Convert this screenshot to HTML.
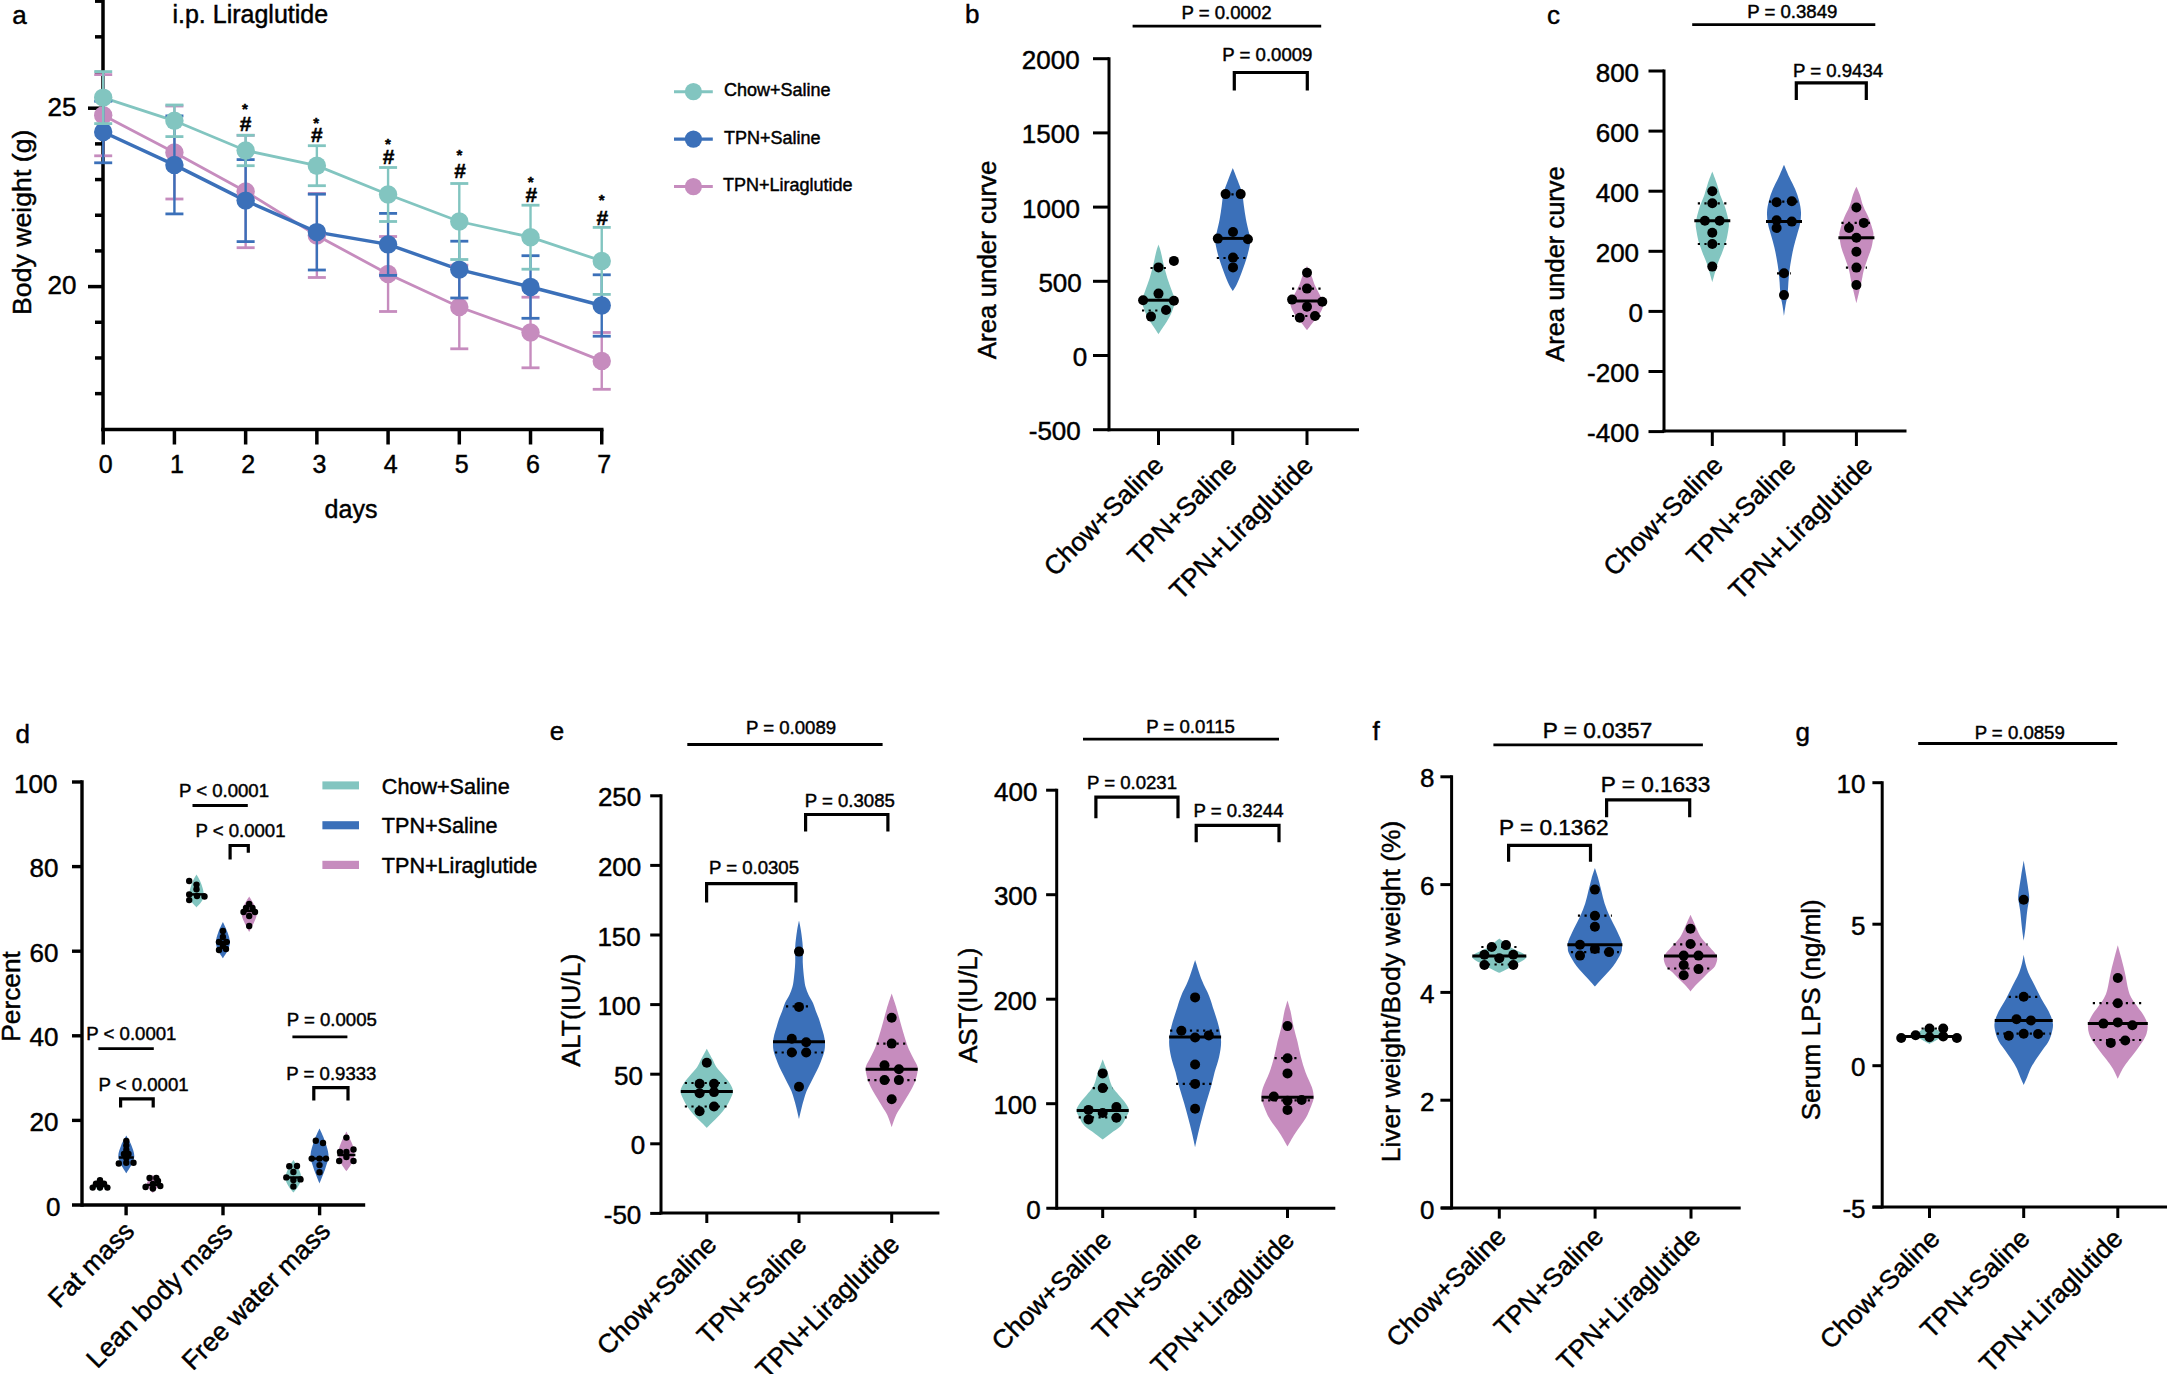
<!DOCTYPE html>
<html><head><meta charset="utf-8"><title>Figure</title>
<style>
html,body{margin:0;padding:0;background:#fff;}
body{width:2167px;height:1374px;overflow:hidden;}
svg{display:block;font-family:'Liberation Sans', Arial, Helvetica, sans-serif;}
text{stroke:#000;stroke-width:0.45px;paint-order:stroke;}
</style></head><body>
<svg width="2167" height="1374" viewBox="0 0 2167 1374">
<rect width="2167" height="1374" fill="#fff"/>
<line x1="103" y1="-2" x2="103" y2="431.2" stroke="#000" stroke-width="3.5" stroke-linecap="butt"/>
<line x1="101.3" y1="429.5" x2="603.5" y2="429.5" stroke="#000" stroke-width="3.5" stroke-linecap="butt"/>
<line x1="95" y1="393.64" x2="103" y2="393.64" stroke="#000" stroke-width="3.5" stroke-linecap="butt"/>
<line x1="95" y1="357.96" x2="103" y2="357.96" stroke="#000" stroke-width="3.5" stroke-linecap="butt"/>
<line x1="95" y1="322.28" x2="103" y2="322.28" stroke="#000" stroke-width="3.5" stroke-linecap="butt"/>
<line x1="88" y1="286.6" x2="103" y2="286.6" stroke="#000" stroke-width="3.5" stroke-linecap="butt"/>
<line x1="95" y1="250.92" x2="103" y2="250.92" stroke="#000" stroke-width="3.5" stroke-linecap="butt"/>
<line x1="95" y1="215.24" x2="103" y2="215.24" stroke="#000" stroke-width="3.5" stroke-linecap="butt"/>
<line x1="95" y1="179.56" x2="103" y2="179.56" stroke="#000" stroke-width="3.5" stroke-linecap="butt"/>
<line x1="95" y1="143.88" x2="103" y2="143.88" stroke="#000" stroke-width="3.5" stroke-linecap="butt"/>
<line x1="88" y1="108.2" x2="103" y2="108.2" stroke="#000" stroke-width="3.5" stroke-linecap="butt"/>
<line x1="95" y1="72.52" x2="103" y2="72.52" stroke="#000" stroke-width="3.5" stroke-linecap="butt"/>
<line x1="95" y1="36.84" x2="103" y2="36.84" stroke="#000" stroke-width="3.5" stroke-linecap="butt"/>
<line x1="95" y1="1.16" x2="103" y2="1.16" stroke="#000" stroke-width="3.5" stroke-linecap="butt"/>
<line x1="103.2" y1="429.5" x2="103.2" y2="444.5" stroke="#000" stroke-width="3.5" stroke-linecap="butt"/>
<text x="105.7" y="472.6" font-size="25" text-anchor="middle" fill="#000">0</text>
<line x1="174.42" y1="429.5" x2="174.42" y2="444.5" stroke="#000" stroke-width="3.5" stroke-linecap="butt"/>
<text x="176.92" y="472.6" font-size="25" text-anchor="middle" fill="#000">1</text>
<line x1="245.64" y1="429.5" x2="245.64" y2="444.5" stroke="#000" stroke-width="3.5" stroke-linecap="butt"/>
<text x="248.14" y="472.6" font-size="25" text-anchor="middle" fill="#000">2</text>
<line x1="316.86" y1="429.5" x2="316.86" y2="444.5" stroke="#000" stroke-width="3.5" stroke-linecap="butt"/>
<text x="319.36" y="472.6" font-size="25" text-anchor="middle" fill="#000">3</text>
<line x1="388.08" y1="429.5" x2="388.08" y2="444.5" stroke="#000" stroke-width="3.5" stroke-linecap="butt"/>
<text x="390.58" y="472.6" font-size="25" text-anchor="middle" fill="#000">4</text>
<line x1="459.3" y1="429.5" x2="459.3" y2="444.5" stroke="#000" stroke-width="3.5" stroke-linecap="butt"/>
<text x="461.8" y="472.6" font-size="25" text-anchor="middle" fill="#000">5</text>
<line x1="530.52" y1="429.5" x2="530.52" y2="444.5" stroke="#000" stroke-width="3.5" stroke-linecap="butt"/>
<text x="533.02" y="472.6" font-size="25" text-anchor="middle" fill="#000">6</text>
<line x1="601.74" y1="429.5" x2="601.74" y2="444.5" stroke="#000" stroke-width="3.5" stroke-linecap="butt"/>
<text x="604.24" y="472.6" font-size="25" text-anchor="middle" fill="#000">7</text>
<text x="76.5" y="116.2" font-size="26" text-anchor="end" fill="#000">25</text>
<text x="76.5" y="294" font-size="26" text-anchor="end" fill="#000">20</text>
<text x="31.3" y="222.3" font-size="26.7" text-anchor="middle" fill="#000" transform="rotate(-90 31.3 222.3)">Body weight (g)</text>
<text x="351" y="518" font-size="25" text-anchor="middle" fill="#000">days</text>
<text x="250.3" y="22.7" font-size="25" text-anchor="middle" fill="#000">i.p. Liraglutide</text>
<text x="19.5" y="24.3" font-size="26" text-anchor="middle" fill="#000">a</text>
<polyline points="103.2,115.2 174.42,152.5 245.64,191.5 316.86,235.5 388.08,274 459.3,307 530.52,332.5 601.74,360.9" fill="none" stroke="#C68CBE" stroke-width="2.8" stroke-linejoin="miter"/>
<polyline points="103.2,132 174.42,164.9 245.64,200.6 316.86,232.1 388.08,244.4 459.3,269.6 530.52,287 601.74,305.5" fill="none" stroke="#3B70B9" stroke-width="3.4" stroke-linejoin="miter"/>
<polyline points="103.2,97.6 174.42,120.8 245.64,150.5 316.86,165.7 388.08,194.5 459.3,221.5 530.52,237.2 601.74,260.9" fill="none" stroke="#82C5C0" stroke-width="2.8" stroke-linejoin="miter"/>
<line x1="103.2" y1="74.6" x2="103.2" y2="155.8" stroke="#C68CBE" stroke-width="2.4" stroke-linecap="butt"/>
<line x1="94.2" y1="74.6" x2="112.2" y2="74.6" stroke="#C68CBE" stroke-width="2.8" stroke-linecap="butt"/>
<line x1="94.2" y1="155.8" x2="112.2" y2="155.8" stroke="#C68CBE" stroke-width="2.8" stroke-linecap="butt"/>
<line x1="174.42" y1="106" x2="174.42" y2="199" stroke="#C68CBE" stroke-width="2.4" stroke-linecap="butt"/>
<line x1="165.42" y1="106" x2="183.42" y2="106" stroke="#C68CBE" stroke-width="2.8" stroke-linecap="butt"/>
<line x1="165.42" y1="199" x2="183.42" y2="199" stroke="#C68CBE" stroke-width="2.8" stroke-linecap="butt"/>
<line x1="245.64" y1="135.3" x2="245.64" y2="247.7" stroke="#C68CBE" stroke-width="2.4" stroke-linecap="butt"/>
<line x1="236.64" y1="135.3" x2="254.64" y2="135.3" stroke="#C68CBE" stroke-width="2.8" stroke-linecap="butt"/>
<line x1="236.64" y1="247.7" x2="254.64" y2="247.7" stroke="#C68CBE" stroke-width="2.8" stroke-linecap="butt"/>
<line x1="316.86" y1="193.5" x2="316.86" y2="277.5" stroke="#C68CBE" stroke-width="2.4" stroke-linecap="butt"/>
<line x1="307.86" y1="193.5" x2="325.86" y2="193.5" stroke="#C68CBE" stroke-width="2.8" stroke-linecap="butt"/>
<line x1="307.86" y1="277.5" x2="325.86" y2="277.5" stroke="#C68CBE" stroke-width="2.8" stroke-linecap="butt"/>
<line x1="388.08" y1="236.5" x2="388.08" y2="311.5" stroke="#C68CBE" stroke-width="2.4" stroke-linecap="butt"/>
<line x1="379.08" y1="236.5" x2="397.08" y2="236.5" stroke="#C68CBE" stroke-width="2.8" stroke-linecap="butt"/>
<line x1="379.08" y1="311.5" x2="397.08" y2="311.5" stroke="#C68CBE" stroke-width="2.8" stroke-linecap="butt"/>
<line x1="459.3" y1="265.2" x2="459.3" y2="348.8" stroke="#C68CBE" stroke-width="2.4" stroke-linecap="butt"/>
<line x1="450.3" y1="265.2" x2="468.3" y2="265.2" stroke="#C68CBE" stroke-width="2.8" stroke-linecap="butt"/>
<line x1="450.3" y1="348.8" x2="468.3" y2="348.8" stroke="#C68CBE" stroke-width="2.8" stroke-linecap="butt"/>
<line x1="530.52" y1="297.2" x2="530.52" y2="367.8" stroke="#C68CBE" stroke-width="2.4" stroke-linecap="butt"/>
<line x1="521.52" y1="297.2" x2="539.52" y2="297.2" stroke="#C68CBE" stroke-width="2.8" stroke-linecap="butt"/>
<line x1="521.52" y1="367.8" x2="539.52" y2="367.8" stroke="#C68CBE" stroke-width="2.8" stroke-linecap="butt"/>
<line x1="601.74" y1="332.5" x2="601.74" y2="389.3" stroke="#C68CBE" stroke-width="2.4" stroke-linecap="butt"/>
<line x1="592.74" y1="332.5" x2="610.74" y2="332.5" stroke="#C68CBE" stroke-width="2.8" stroke-linecap="butt"/>
<line x1="592.74" y1="389.3" x2="610.74" y2="389.3" stroke="#C68CBE" stroke-width="2.8" stroke-linecap="butt"/>
<circle cx="103.2" cy="115.2" r="9.2" fill="#C68CBE"/>
<circle cx="174.42" cy="152.5" r="9.2" fill="#C68CBE"/>
<circle cx="245.64" cy="191.5" r="9.2" fill="#C68CBE"/>
<circle cx="316.86" cy="235.5" r="9.2" fill="#C68CBE"/>
<circle cx="388.08" cy="274" r="9.2" fill="#C68CBE"/>
<circle cx="459.3" cy="307" r="9.2" fill="#C68CBE"/>
<circle cx="530.52" cy="332.5" r="9.2" fill="#C68CBE"/>
<circle cx="601.74" cy="360.9" r="9.2" fill="#C68CBE"/>
<line x1="103.2" y1="101.2" x2="103.2" y2="162.8" stroke="#3B70B9" stroke-width="2.4" stroke-linecap="butt"/>
<line x1="94.2" y1="101.2" x2="112.2" y2="101.2" stroke="#3B70B9" stroke-width="2.8" stroke-linecap="butt"/>
<line x1="94.2" y1="162.8" x2="112.2" y2="162.8" stroke="#3B70B9" stroke-width="2.8" stroke-linecap="butt"/>
<line x1="174.42" y1="115.9" x2="174.42" y2="213.9" stroke="#3B70B9" stroke-width="2.4" stroke-linecap="butt"/>
<line x1="165.42" y1="115.9" x2="183.42" y2="115.9" stroke="#3B70B9" stroke-width="2.8" stroke-linecap="butt"/>
<line x1="165.42" y1="213.9" x2="183.42" y2="213.9" stroke="#3B70B9" stroke-width="2.8" stroke-linecap="butt"/>
<line x1="245.64" y1="159.6" x2="245.64" y2="241.6" stroke="#3B70B9" stroke-width="2.4" stroke-linecap="butt"/>
<line x1="236.64" y1="159.6" x2="254.64" y2="159.6" stroke="#3B70B9" stroke-width="2.8" stroke-linecap="butt"/>
<line x1="236.64" y1="241.6" x2="254.64" y2="241.6" stroke="#3B70B9" stroke-width="2.8" stroke-linecap="butt"/>
<line x1="316.86" y1="194.2" x2="316.86" y2="270" stroke="#3B70B9" stroke-width="2.4" stroke-linecap="butt"/>
<line x1="307.86" y1="194.2" x2="325.86" y2="194.2" stroke="#3B70B9" stroke-width="2.8" stroke-linecap="butt"/>
<line x1="307.86" y1="270" x2="325.86" y2="270" stroke="#3B70B9" stroke-width="2.8" stroke-linecap="butt"/>
<line x1="388.08" y1="213.4" x2="388.08" y2="275.4" stroke="#3B70B9" stroke-width="2.4" stroke-linecap="butt"/>
<line x1="379.08" y1="213.4" x2="397.08" y2="213.4" stroke="#3B70B9" stroke-width="2.8" stroke-linecap="butt"/>
<line x1="379.08" y1="275.4" x2="397.08" y2="275.4" stroke="#3B70B9" stroke-width="2.8" stroke-linecap="butt"/>
<line x1="459.3" y1="241.2" x2="459.3" y2="298" stroke="#3B70B9" stroke-width="2.4" stroke-linecap="butt"/>
<line x1="450.3" y1="241.2" x2="468.3" y2="241.2" stroke="#3B70B9" stroke-width="2.8" stroke-linecap="butt"/>
<line x1="450.3" y1="298" x2="468.3" y2="298" stroke="#3B70B9" stroke-width="2.8" stroke-linecap="butt"/>
<line x1="530.52" y1="255.7" x2="530.52" y2="318.3" stroke="#3B70B9" stroke-width="2.4" stroke-linecap="butt"/>
<line x1="521.52" y1="255.7" x2="539.52" y2="255.7" stroke="#3B70B9" stroke-width="2.8" stroke-linecap="butt"/>
<line x1="521.52" y1="318.3" x2="539.52" y2="318.3" stroke="#3B70B9" stroke-width="2.8" stroke-linecap="butt"/>
<line x1="601.74" y1="274.8" x2="601.74" y2="336.2" stroke="#3B70B9" stroke-width="2.4" stroke-linecap="butt"/>
<line x1="592.74" y1="274.8" x2="610.74" y2="274.8" stroke="#3B70B9" stroke-width="2.8" stroke-linecap="butt"/>
<line x1="592.74" y1="336.2" x2="610.74" y2="336.2" stroke="#3B70B9" stroke-width="2.8" stroke-linecap="butt"/>
<circle cx="103.2" cy="132" r="9.2" fill="#3B70B9"/>
<circle cx="174.42" cy="164.9" r="9.2" fill="#3B70B9"/>
<circle cx="245.64" cy="200.6" r="9.2" fill="#3B70B9"/>
<circle cx="316.86" cy="232.1" r="9.2" fill="#3B70B9"/>
<circle cx="388.08" cy="244.4" r="9.2" fill="#3B70B9"/>
<circle cx="459.3" cy="269.6" r="9.2" fill="#3B70B9"/>
<circle cx="530.52" cy="287" r="9.2" fill="#3B70B9"/>
<circle cx="601.74" cy="305.5" r="9.2" fill="#3B70B9"/>
<line x1="103.2" y1="71.6" x2="103.2" y2="123.6" stroke="#82C5C0" stroke-width="2.4" stroke-linecap="butt"/>
<line x1="94.2" y1="71.6" x2="112.2" y2="71.6" stroke="#82C5C0" stroke-width="2.8" stroke-linecap="butt"/>
<line x1="94.2" y1="123.6" x2="112.2" y2="123.6" stroke="#82C5C0" stroke-width="2.8" stroke-linecap="butt"/>
<line x1="174.42" y1="105" x2="174.42" y2="136.6" stroke="#82C5C0" stroke-width="2.4" stroke-linecap="butt"/>
<line x1="165.42" y1="105" x2="183.42" y2="105" stroke="#82C5C0" stroke-width="2.8" stroke-linecap="butt"/>
<line x1="165.42" y1="136.6" x2="183.42" y2="136.6" stroke="#82C5C0" stroke-width="2.8" stroke-linecap="butt"/>
<line x1="245.64" y1="135.3" x2="245.64" y2="165.7" stroke="#82C5C0" stroke-width="2.4" stroke-linecap="butt"/>
<line x1="236.64" y1="135.3" x2="254.64" y2="135.3" stroke="#82C5C0" stroke-width="2.8" stroke-linecap="butt"/>
<line x1="236.64" y1="165.7" x2="254.64" y2="165.7" stroke="#82C5C0" stroke-width="2.8" stroke-linecap="butt"/>
<line x1="316.86" y1="145.7" x2="316.86" y2="185.7" stroke="#82C5C0" stroke-width="2.4" stroke-linecap="butt"/>
<line x1="307.86" y1="145.7" x2="325.86" y2="145.7" stroke="#82C5C0" stroke-width="2.8" stroke-linecap="butt"/>
<line x1="307.86" y1="185.7" x2="325.86" y2="185.7" stroke="#82C5C0" stroke-width="2.8" stroke-linecap="butt"/>
<line x1="388.08" y1="167.5" x2="388.08" y2="221.5" stroke="#82C5C0" stroke-width="2.4" stroke-linecap="butt"/>
<line x1="379.08" y1="167.5" x2="397.08" y2="167.5" stroke="#82C5C0" stroke-width="2.8" stroke-linecap="butt"/>
<line x1="379.08" y1="221.5" x2="397.08" y2="221.5" stroke="#82C5C0" stroke-width="2.8" stroke-linecap="butt"/>
<line x1="459.3" y1="183.5" x2="459.3" y2="259.5" stroke="#82C5C0" stroke-width="2.4" stroke-linecap="butt"/>
<line x1="450.3" y1="183.5" x2="468.3" y2="183.5" stroke="#82C5C0" stroke-width="2.8" stroke-linecap="butt"/>
<line x1="450.3" y1="259.5" x2="468.3" y2="259.5" stroke="#82C5C0" stroke-width="2.8" stroke-linecap="butt"/>
<line x1="530.52" y1="205.2" x2="530.52" y2="269.2" stroke="#82C5C0" stroke-width="2.4" stroke-linecap="butt"/>
<line x1="521.52" y1="205.2" x2="539.52" y2="205.2" stroke="#82C5C0" stroke-width="2.8" stroke-linecap="butt"/>
<line x1="521.52" y1="269.2" x2="539.52" y2="269.2" stroke="#82C5C0" stroke-width="2.8" stroke-linecap="butt"/>
<line x1="601.74" y1="227.4" x2="601.74" y2="294.4" stroke="#82C5C0" stroke-width="2.4" stroke-linecap="butt"/>
<line x1="592.74" y1="227.4" x2="610.74" y2="227.4" stroke="#82C5C0" stroke-width="2.8" stroke-linecap="butt"/>
<line x1="592.74" y1="294.4" x2="610.74" y2="294.4" stroke="#82C5C0" stroke-width="2.8" stroke-linecap="butt"/>
<circle cx="103.2" cy="97.6" r="9.2" fill="#82C5C0"/>
<circle cx="174.42" cy="120.8" r="9.2" fill="#82C5C0"/>
<circle cx="245.64" cy="150.5" r="9.2" fill="#82C5C0"/>
<circle cx="316.86" cy="165.7" r="9.2" fill="#82C5C0"/>
<circle cx="388.08" cy="194.5" r="9.2" fill="#82C5C0"/>
<circle cx="459.3" cy="221.5" r="9.2" fill="#82C5C0"/>
<circle cx="530.52" cy="237.2" r="9.2" fill="#82C5C0"/>
<circle cx="601.74" cy="260.9" r="9.2" fill="#82C5C0"/>
<text x="244.8" y="114.2" font-size="15" text-anchor="middle" fill="#000" font-weight="bold">*</text>
<text x="245.5" y="131.3" font-size="21" text-anchor="middle" fill="#000" font-weight="bold">#</text>
<text x="316.1" y="127.5" font-size="15" text-anchor="middle" fill="#000" font-weight="bold">*</text>
<text x="316.8" y="141.8" font-size="21" text-anchor="middle" fill="#000" font-weight="bold">#</text>
<text x="387.8" y="149" font-size="15" text-anchor="middle" fill="#000" font-weight="bold">*</text>
<text x="388.5" y="163.5" font-size="21" text-anchor="middle" fill="#000" font-weight="bold">#</text>
<text x="459.5" y="160.4" font-size="15" text-anchor="middle" fill="#000" font-weight="bold">*</text>
<text x="460.2" y="178.2" font-size="21" text-anchor="middle" fill="#000" font-weight="bold">#</text>
<text x="530.6" y="186.6" font-size="15" text-anchor="middle" fill="#000" font-weight="bold">*</text>
<text x="531.3" y="202.3" font-size="21" text-anchor="middle" fill="#000" font-weight="bold">#</text>
<text x="601.7" y="205" font-size="15" text-anchor="middle" fill="#000" font-weight="bold">*</text>
<text x="602.4" y="224.5" font-size="21" text-anchor="middle" fill="#000" font-weight="bold">#</text>
<line x1="674" y1="91.7" x2="712.8" y2="91.7" stroke="#82C5C0" stroke-width="3" stroke-linecap="butt"/>
<circle cx="693.4" cy="91.7" r="8.6" fill="#82C5C0"/>
<line x1="674" y1="139.1" x2="712.8" y2="139.1" stroke="#3B70B9" stroke-width="3.4" stroke-linecap="butt"/>
<circle cx="693.4" cy="139.1" r="8.6" fill="#3B70B9"/>
<line x1="674" y1="186.6" x2="712.8" y2="186.6" stroke="#C68CBE" stroke-width="3" stroke-linecap="butt"/>
<circle cx="693.4" cy="186.6" r="8.6" fill="#C68CBE"/>
<text x="724" y="95.5" font-size="18" text-anchor="start" fill="#000">Chow+Saline</text>
<text x="724" y="143.5" font-size="18" text-anchor="start" fill="#000">TPN+Saline</text>
<text x="723" y="190.5" font-size="18" text-anchor="start" fill="#000">TPN+Liraglutide</text>
<line x1="1109" y1="57.2" x2="1109" y2="431.3" stroke="#000" stroke-width="3" stroke-linecap="butt"/>
<line x1="1107.5" y1="429.8" x2="1359" y2="429.8" stroke="#000" stroke-width="3" stroke-linecap="butt"/>
<line x1="1093" y1="58.7" x2="1109" y2="58.7" stroke="#000" stroke-width="3" stroke-linecap="butt"/>
<text x="1079.6" y="69.2" font-size="26" text-anchor="end" fill="#000">2000</text>
<line x1="1093" y1="132.9" x2="1109" y2="132.9" stroke="#000" stroke-width="3" stroke-linecap="butt"/>
<text x="1079.6" y="143.4" font-size="26" text-anchor="end" fill="#000">1500</text>
<line x1="1093" y1="207.1" x2="1109" y2="207.1" stroke="#000" stroke-width="3" stroke-linecap="butt"/>
<text x="1079.9" y="217.6" font-size="26" text-anchor="end" fill="#000">1000</text>
<line x1="1093" y1="281.3" x2="1109" y2="281.3" stroke="#000" stroke-width="3" stroke-linecap="butt"/>
<text x="1081.8" y="291.8" font-size="26" text-anchor="end" fill="#000">500</text>
<line x1="1093" y1="355.5" x2="1109" y2="355.5" stroke="#000" stroke-width="3" stroke-linecap="butt"/>
<text x="1087.2" y="366" font-size="26" text-anchor="end" fill="#000">0</text>
<line x1="1093" y1="429.7" x2="1109" y2="429.7" stroke="#000" stroke-width="3" stroke-linecap="butt"/>
<text x="1080.8" y="440.2" font-size="26" text-anchor="end" fill="#000">-500</text>
<line x1="1158.5" y1="429.8" x2="1158.5" y2="445" stroke="#000" stroke-width="3" stroke-linecap="butt"/>
<line x1="1232.8" y1="429.8" x2="1232.8" y2="445" stroke="#000" stroke-width="3" stroke-linecap="butt"/>
<line x1="1307" y1="429.8" x2="1307" y2="445" stroke="#000" stroke-width="3" stroke-linecap="butt"/>
<text x="996.5" y="259.9" font-size="25.9" text-anchor="middle" fill="#000" transform="rotate(-90 996.5 259.9)">Area under curve</text>
<text x="972.2" y="22.7" font-size="26" text-anchor="middle" fill="#000">b</text>
<text x="1226.5" y="18.9" font-size="18.6" text-anchor="middle" fill="#000">P = 0.0002</text>
<line x1="1132.6" y1="26.1" x2="1321.2" y2="26.1" stroke="#000" stroke-width="2.8" stroke-linecap="butt"/>
<text x="1267.4" y="60.9" font-size="18.6" text-anchor="middle" fill="#000">P = 0.0009</text>
<polyline points="1234.3,90.4 1234.3,72.5 1307.3,72.5 1307.3,90.4" fill="none" stroke="#000" stroke-width="3.2" stroke-linejoin="miter"/>
<path d="M1158.5,244.5 C1158.88,245.7 1159.93,248.32 1160.8,251.7 C1161.67,255.08 1162.62,260.43 1163.7,264.8 C1164.78,269.17 1165.93,273.53 1167.3,277.9 C1168.67,282.27 1170.62,287.18 1171.9,291 C1173.18,294.82 1174.93,297.52 1175,300.8 C1175.07,304.08 1173.25,307.97 1172.3,310.7 C1171.35,313.43 1170.45,315.02 1169.3,317.2 C1168.15,319.38 1167.2,320.97 1165.4,323.8 C1163.6,326.63 1159.65,332.47 1158.5,334.2 C1157.35,332.47 1153.4,326.63 1151.6,323.8 C1149.8,320.97 1148.85,319.38 1147.7,317.2 C1146.55,315.02 1145.65,313.43 1144.7,310.7 C1143.75,307.97 1141.93,304.08 1142,300.8 C1142.07,297.52 1143.82,294.82 1145.1,291 C1146.38,287.18 1148.33,282.27 1149.7,277.9 C1151.07,273.53 1152.22,269.17 1153.3,264.8 C1154.38,260.43 1155.33,255.08 1156.2,251.7 C1157.07,248.32 1158.12,245.7 1158.5,244.5 Z" fill="#82C5C0"/>
<line x1="1142" y1="310.5" x2="1175" y2="310.5" stroke="#000" stroke-width="2.2" stroke-linecap="butt" stroke-dasharray="2.2,4.4"/>
<line x1="1150.5" y1="268" x2="1166.5" y2="268" stroke="#000" stroke-width="2.2" stroke-linecap="butt" stroke-dasharray="2.2,4.4"/>
<line x1="1143" y1="300.2" x2="1174" y2="300.2" stroke="#000" stroke-width="3" stroke-linecap="butt"/>
<circle cx="1158.5" cy="267.4" r="5" fill="#000"/>
<circle cx="1173.9" cy="260.9" r="5" fill="#000"/>
<circle cx="1158.5" cy="293.6" r="5" fill="#000"/>
<circle cx="1143.1" cy="300.2" r="5" fill="#000"/>
<circle cx="1173.9" cy="300.8" r="5" fill="#000"/>
<circle cx="1166" cy="310" r="5" fill="#000"/>
<circle cx="1151" cy="316.6" r="5" fill="#000"/>
<path d="M1232.8,167.9 C1233.57,169.87 1235.87,175.55 1237.4,179.7 C1238.93,183.85 1240.92,188.43 1242,192.8 C1243.08,197.17 1243.25,201.53 1243.9,205.9 C1244.55,210.27 1245.08,214.63 1245.9,219 C1246.72,223.37 1248.07,228.83 1248.8,232.1 C1249.53,235.37 1250.13,236.42 1250.3,238.6 C1250.47,240.78 1250.42,241.92 1249.8,245.2 C1249.18,248.48 1247.9,253.93 1246.6,258.3 C1245.3,262.67 1243.65,267.03 1242,271.4 C1240.35,275.77 1238.23,281.23 1236.7,284.5 C1235.17,287.77 1233.45,289.92 1232.8,291 C1232.15,289.92 1230.43,287.77 1228.9,284.5 C1227.37,281.23 1225.25,275.77 1223.6,271.4 C1221.95,267.03 1220.3,262.67 1219,258.3 C1217.7,253.93 1216.42,248.48 1215.8,245.2 C1215.18,241.92 1215.13,240.78 1215.3,238.6 C1215.47,236.42 1216.07,235.37 1216.8,232.1 C1217.53,228.83 1218.88,223.37 1219.7,219 C1220.52,214.63 1221.05,210.27 1221.7,205.9 C1222.35,201.53 1222.52,197.17 1223.6,192.8 C1224.68,188.43 1226.67,183.85 1228.2,179.7 C1229.73,175.55 1232.03,169.87 1232.8,167.9 Z" fill="#3B70B9"/>
<line x1="1216.8" y1="258" x2="1248.8" y2="258" stroke="#000" stroke-width="2.2" stroke-linecap="butt" stroke-dasharray="2.2,4.4"/>
<line x1="1224.8" y1="194.3" x2="1240.8" y2="194.3" stroke="#000" stroke-width="2.2" stroke-linecap="butt" stroke-dasharray="2.2,4.4"/>
<line x1="1217.3" y1="238.4" x2="1248.3" y2="238.4" stroke="#000" stroke-width="3" stroke-linecap="butt"/>
<circle cx="1225.6" cy="194.1" r="5" fill="#000"/>
<circle cx="1240.7" cy="194.1" r="5" fill="#000"/>
<circle cx="1233" cy="232" r="5" fill="#000"/>
<circle cx="1217.8" cy="238.6" r="5" fill="#000"/>
<circle cx="1247.9" cy="239.3" r="5" fill="#000"/>
<circle cx="1233" cy="257.6" r="5" fill="#000"/>
<circle cx="1233" cy="267.4" r="5" fill="#000"/>
<path d="M1307,266.1 C1307.47,266.98 1308.92,269.43 1309.8,271.4 C1310.68,273.37 1311.52,275.72 1312.3,277.9 C1313.08,280.08 1313.58,282.32 1314.5,284.5 C1315.42,286.68 1316.7,288.82 1317.8,291 C1318.9,293.18 1320.15,295.42 1321.1,297.6 C1322.05,299.78 1323.45,301.92 1323.5,304.1 C1323.55,306.28 1322.45,308.52 1321.4,310.7 C1320.35,312.88 1318.78,315.02 1317.2,317.2 C1315.62,319.38 1313.6,321.62 1311.9,323.8 C1310.2,325.98 1307.82,329.22 1307,330.3 C1306.18,329.22 1303.8,325.98 1302.1,323.8 C1300.4,321.62 1298.38,319.38 1296.8,317.2 C1295.22,315.02 1293.65,312.88 1292.6,310.7 C1291.55,308.52 1290.45,306.28 1290.5,304.1 C1290.55,301.92 1291.95,299.78 1292.9,297.6 C1293.85,295.42 1295.1,293.18 1296.2,291 C1297.3,288.82 1298.58,286.68 1299.5,284.5 C1300.42,282.32 1300.92,280.08 1301.7,277.9 C1302.48,275.72 1303.32,273.37 1304.2,271.4 C1305.08,269.43 1306.53,266.98 1307,266.1 Z" fill="#C68CBE"/>
<line x1="1292" y1="316" x2="1322" y2="316" stroke="#000" stroke-width="2.2" stroke-linecap="butt" stroke-dasharray="2.2,4.4"/>
<line x1="1292" y1="288.6" x2="1322" y2="288.6" stroke="#000" stroke-width="2.2" stroke-linecap="butt" stroke-dasharray="2.2,4.4"/>
<line x1="1291.5" y1="301" x2="1322.5" y2="301" stroke="#000" stroke-width="3" stroke-linecap="butt"/>
<circle cx="1307" cy="272.7" r="5" fill="#000"/>
<circle cx="1307" cy="288.6" r="5" fill="#000"/>
<circle cx="1292.1" cy="299.6" r="5" fill="#000"/>
<circle cx="1322.3" cy="301.7" r="5" fill="#000"/>
<circle cx="1307" cy="306.8" r="5" fill="#000"/>
<circle cx="1299.8" cy="317.7" r="5" fill="#000"/>
<circle cx="1315" cy="316" r="5" fill="#000"/>
<text x="1165.3" y="467" font-size="26.4" text-anchor="end" fill="#000" transform="rotate(-45 1165.3 467)">Chow+Saline</text>
<text x="1238.5" y="467" font-size="26.4" text-anchor="end" fill="#000" transform="rotate(-45 1238.5 467)">TPN+Saline</text>
<text x="1314.8" y="467" font-size="26.4" text-anchor="end" fill="#000" transform="rotate(-45 1314.8 467)">TPN+Liraglutide</text>
<line x1="1664" y1="69.5" x2="1664" y2="432.5" stroke="#000" stroke-width="3" stroke-linecap="butt"/>
<line x1="1662.5" y1="431" x2="1906.5" y2="431" stroke="#000" stroke-width="3" stroke-linecap="butt"/>
<line x1="1648.5" y1="71" x2="1664" y2="71" stroke="#000" stroke-width="3" stroke-linecap="butt"/>
<text x="1639.1" y="81.5" font-size="26" text-anchor="end" fill="#000">800</text>
<line x1="1648.5" y1="131.1" x2="1664" y2="131.1" stroke="#000" stroke-width="3" stroke-linecap="butt"/>
<text x="1639.1" y="141.6" font-size="26" text-anchor="end" fill="#000">600</text>
<line x1="1648.5" y1="191.2" x2="1664" y2="191.2" stroke="#000" stroke-width="3" stroke-linecap="butt"/>
<text x="1639.1" y="201.7" font-size="26" text-anchor="end" fill="#000">400</text>
<line x1="1648.5" y1="251.3" x2="1664" y2="251.3" stroke="#000" stroke-width="3" stroke-linecap="butt"/>
<text x="1639.1" y="261.8" font-size="26" text-anchor="end" fill="#000">200</text>
<line x1="1648.5" y1="311.4" x2="1664" y2="311.4" stroke="#000" stroke-width="3" stroke-linecap="butt"/>
<text x="1643" y="321.9" font-size="26" text-anchor="end" fill="#000">0</text>
<line x1="1648.5" y1="371.5" x2="1664" y2="371.5" stroke="#000" stroke-width="3" stroke-linecap="butt"/>
<text x="1639.1" y="382" font-size="26" text-anchor="end" fill="#000">-200</text>
<line x1="1648.5" y1="431.6" x2="1664" y2="431.6" stroke="#000" stroke-width="3" stroke-linecap="butt"/>
<text x="1639.1" y="442.1" font-size="26" text-anchor="end" fill="#000">-400</text>
<line x1="1712.3" y1="431" x2="1712.3" y2="446" stroke="#000" stroke-width="3" stroke-linecap="butt"/>
<line x1="1784" y1="431" x2="1784" y2="446" stroke="#000" stroke-width="3" stroke-linecap="butt"/>
<line x1="1856.4" y1="431" x2="1856.4" y2="446" stroke="#000" stroke-width="3" stroke-linecap="butt"/>
<text x="1563.8" y="264" font-size="25.5" text-anchor="middle" fill="#000" transform="rotate(-90 1563.8 264)">Area under curve</text>
<text x="1553.5" y="23.7" font-size="26" text-anchor="middle" fill="#000">c</text>
<text x="1792.3" y="18" font-size="18.6" text-anchor="middle" fill="#000">P = 0.3849</text>
<line x1="1692.2" y1="24.6" x2="1875.3" y2="24.6" stroke="#000" stroke-width="2.8" stroke-linecap="butt"/>
<text x="1838.1" y="76.6" font-size="18.6" text-anchor="middle" fill="#000">P = 0.9434</text>
<polyline points="1796.3,99.9 1796.3,82.9 1866.3,82.9 1866.3,99.9" fill="none" stroke="#000" stroke-width="3.2" stroke-linejoin="miter"/>
<path d="M1712.3,171.6 C1713.03,173.55 1715.38,179.42 1716.7,183.3 C1718.02,187.18 1718.85,191.02 1720.2,194.9 C1721.55,198.78 1723.5,202.72 1724.8,206.6 C1726.1,210.48 1727.32,215.28 1728,218.2 C1728.68,221.12 1728.85,222.15 1728.9,224.1 C1728.95,226.05 1728.78,227 1728.3,229.9 C1727.82,232.8 1727.07,237.62 1726,241.5 C1724.93,245.38 1723.35,249.32 1721.9,253.2 C1720.45,257.08 1718.9,259.95 1717.3,264.8 C1715.7,269.65 1713.13,279.38 1712.3,282.3 C1711.47,279.38 1708.9,269.65 1707.3,264.8 C1705.7,259.95 1704.15,257.08 1702.7,253.2 C1701.25,249.32 1699.67,245.38 1698.6,241.5 C1697.53,237.62 1696.78,232.8 1696.3,229.9 C1695.82,227 1695.65,226.05 1695.7,224.1 C1695.75,222.15 1695.92,221.12 1696.6,218.2 C1697.28,215.28 1698.5,210.48 1699.8,206.6 C1701.1,202.72 1703.05,198.78 1704.4,194.9 C1705.75,191.02 1706.58,187.18 1707.9,183.3 C1709.22,179.42 1711.57,173.55 1712.3,171.6 Z" fill="#82C5C0"/>
<line x1="1697.8" y1="244" x2="1726.8" y2="244" stroke="#000" stroke-width="2.2" stroke-linecap="butt" stroke-dasharray="2.2,4.4"/>
<line x1="1697.8" y1="203.3" x2="1726.8" y2="203.3" stroke="#000" stroke-width="2.2" stroke-linecap="butt" stroke-dasharray="2.2,4.4"/>
<line x1="1694.3" y1="220.8" x2="1730.3" y2="220.8" stroke="#000" stroke-width="3" stroke-linecap="butt"/>
<circle cx="1712.3" cy="191.2" r="5" fill="#000"/>
<circle cx="1712.3" cy="203.3" r="5" fill="#000"/>
<circle cx="1704.9" cy="220.8" r="5" fill="#000"/>
<circle cx="1719.6" cy="220.8" r="5" fill="#000"/>
<circle cx="1712.3" cy="232.8" r="5" fill="#000"/>
<circle cx="1712.3" cy="244" r="5" fill="#000"/>
<circle cx="1712.3" cy="266.6" r="5" fill="#000"/>
<path d="M1784,164.7 C1784.92,166.83 1787.65,173.43 1789.5,177.5 C1791.35,181.57 1793.5,185.22 1795.1,189.1 C1796.7,192.98 1798.12,196.92 1799.1,200.8 C1800.08,204.68 1800.85,208.52 1801,212.4 C1801.15,216.28 1800.7,220.22 1800,224.1 C1799.3,227.98 1797.87,231.82 1796.8,235.7 C1795.73,239.58 1794.52,243.52 1793.6,247.4 C1792.68,251.28 1791.98,255.13 1791.3,259 C1790.62,262.87 1789.98,266.72 1789.5,270.6 C1789.02,274.48 1788.72,278.42 1788.4,282.3 C1788.08,286.18 1788.08,290.02 1787.6,293.9 C1787.12,297.78 1786.1,301.9 1785.5,305.6 C1784.9,309.3 1784.25,314.35 1784,316.1 C1783.75,314.35 1783.1,309.3 1782.5,305.6 C1781.9,301.9 1780.88,297.78 1780.4,293.9 C1779.92,290.02 1779.92,286.18 1779.6,282.3 C1779.28,278.42 1778.98,274.48 1778.5,270.6 C1778.02,266.72 1777.38,262.87 1776.7,259 C1776.02,255.13 1775.32,251.28 1774.4,247.4 C1773.48,243.52 1772.27,239.58 1771.2,235.7 C1770.13,231.82 1768.7,227.98 1768,224.1 C1767.3,220.22 1766.85,216.28 1767,212.4 C1767.15,208.52 1767.92,204.68 1768.9,200.8 C1769.88,196.92 1771.3,192.98 1772.9,189.1 C1774.5,185.22 1776.65,181.57 1778.5,177.5 C1780.35,173.43 1783.08,166.83 1784,164.7 Z" fill="#3B70B9"/>
<line x1="1777" y1="273.3" x2="1791" y2="273.3" stroke="#000" stroke-width="2.2" stroke-linecap="butt" stroke-dasharray="2.2,4.4"/>
<line x1="1769" y1="201.7" x2="1799" y2="201.7" stroke="#000" stroke-width="2.2" stroke-linecap="butt" stroke-dasharray="2.2,4.4"/>
<line x1="1766" y1="221.6" x2="1802" y2="221.6" stroke="#000" stroke-width="3" stroke-linecap="butt"/>
<circle cx="1776.6" cy="202.2" r="5" fill="#000"/>
<circle cx="1791.8" cy="201.2" r="5" fill="#000"/>
<circle cx="1776.6" cy="220.2" r="5" fill="#000"/>
<circle cx="1791.8" cy="221.6" r="5" fill="#000"/>
<circle cx="1776.6" cy="228" r="5" fill="#000"/>
<circle cx="1784" cy="273.3" r="5" fill="#000"/>
<circle cx="1784" cy="295.1" r="5" fill="#000"/>
<path d="M1856.4,186.8 C1856.98,188.15 1858.73,191.6 1859.9,194.9 C1861.07,198.2 1861.9,202.72 1863.4,206.6 C1864.9,210.48 1867.35,214.32 1868.9,218.2 C1870.45,222.08 1871.95,226.98 1872.7,229.9 C1873.45,232.82 1873.6,232.78 1873.4,235.7 C1873.2,238.62 1872.48,243.52 1871.5,247.4 C1870.52,251.28 1868.8,255.13 1867.5,259 C1866.2,262.87 1864.72,266.72 1863.7,270.6 C1862.68,274.48 1862.62,276.85 1861.4,282.3 C1860.18,287.75 1857.23,299.8 1856.4,303.3 C1855.57,299.8 1852.62,287.75 1851.4,282.3 C1850.18,276.85 1850.12,274.48 1849.1,270.6 C1848.08,266.72 1846.6,262.87 1845.3,259 C1844,255.13 1842.28,251.28 1841.3,247.4 C1840.32,243.52 1839.6,238.62 1839.4,235.7 C1839.2,232.78 1839.35,232.82 1840.1,229.9 C1840.85,226.98 1842.35,222.08 1843.9,218.2 C1845.45,214.32 1847.9,210.48 1849.4,206.6 C1850.9,202.72 1851.73,198.2 1852.9,194.9 C1854.07,191.6 1855.82,188.15 1856.4,186.8 Z" fill="#C68CBE"/>
<line x1="1845.9" y1="267.6" x2="1866.9" y2="267.6" stroke="#000" stroke-width="2.2" stroke-linecap="butt" stroke-dasharray="2.2,4.4"/>
<line x1="1841.4" y1="222.9" x2="1871.4" y2="222.9" stroke="#000" stroke-width="2.2" stroke-linecap="butt" stroke-dasharray="2.2,4.4"/>
<line x1="1838.4" y1="237.7" x2="1874.4" y2="237.7" stroke="#000" stroke-width="3" stroke-linecap="butt"/>
<circle cx="1856.4" cy="207.5" r="5" fill="#000"/>
<circle cx="1863.8" cy="222.9" r="5" fill="#000"/>
<circle cx="1849" cy="228" r="5" fill="#000"/>
<circle cx="1856.4" cy="237.7" r="5" fill="#000"/>
<circle cx="1856.4" cy="251.8" r="5" fill="#000"/>
<circle cx="1856.4" cy="267.6" r="5" fill="#000"/>
<circle cx="1856.4" cy="285" r="5" fill="#000"/>
<text x="1724.7" y="467" font-size="26.4" text-anchor="end" fill="#000" transform="rotate(-45 1724.7 467)">Chow+Saline</text>
<text x="1797.5" y="467" font-size="26.4" text-anchor="end" fill="#000" transform="rotate(-45 1797.5 467)">TPN+Saline</text>
<text x="1874.2" y="467" font-size="26.4" text-anchor="end" fill="#000" transform="rotate(-45 1874.2 467)">TPN+Liraglutide</text>
<line x1="82" y1="780.3" x2="82" y2="1206.7" stroke="#000" stroke-width="3.4" stroke-linecap="butt"/>
<line x1="72" y1="1205" x2="365.2" y2="1205" stroke="#000" stroke-width="3.4" stroke-linecap="butt"/>
<line x1="72" y1="782" x2="82" y2="782" stroke="#000" stroke-width="3.4" stroke-linecap="butt"/>
<line x1="72" y1="866.6" x2="82" y2="866.6" stroke="#000" stroke-width="3.4" stroke-linecap="butt"/>
<line x1="72" y1="951.2" x2="82" y2="951.2" stroke="#000" stroke-width="3.4" stroke-linecap="butt"/>
<line x1="72" y1="1035.8" x2="82" y2="1035.8" stroke="#000" stroke-width="3.4" stroke-linecap="butt"/>
<line x1="72" y1="1120.4" x2="82" y2="1120.4" stroke="#000" stroke-width="3.4" stroke-linecap="butt"/>
<text x="57.5" y="792.5" font-size="26" text-anchor="end" fill="#000">100</text>
<text x="58.5" y="877.1" font-size="26" text-anchor="end" fill="#000">80</text>
<text x="58.5" y="961.7" font-size="26" text-anchor="end" fill="#000">60</text>
<text x="58.5" y="1046.3" font-size="26" text-anchor="end" fill="#000">40</text>
<text x="58.5" y="1130.9" font-size="26" text-anchor="end" fill="#000">20</text>
<text x="60.5" y="1215.5" font-size="26" text-anchor="end" fill="#000">0</text>
<line x1="126.1" y1="1205" x2="126.1" y2="1215.3" stroke="#000" stroke-width="3.4" stroke-linecap="butt"/>
<line x1="223" y1="1205" x2="223" y2="1215.3" stroke="#000" stroke-width="3.4" stroke-linecap="butt"/>
<line x1="319.6" y1="1205" x2="319.6" y2="1215.3" stroke="#000" stroke-width="3.4" stroke-linecap="butt"/>
<text x="20.2" y="996.4" font-size="26.3" text-anchor="middle" fill="#000" transform="rotate(-90 20.2 996.4)">Percent</text>
<text x="22.8" y="742.7" font-size="26" text-anchor="middle" fill="#000">d</text>
<text x="224" y="797.3" font-size="18.6" text-anchor="middle" fill="#000">P &lt; 0.0001</text>
<line x1="192.5" y1="805.5" x2="247.8" y2="805.5" stroke="#000" stroke-width="2.8" stroke-linecap="butt"/>
<text x="240.5" y="837.3" font-size="18.6" text-anchor="middle" fill="#000">P &lt; 0.0001</text>
<polyline points="230.1,859.5 230.1,845.5 248.3,845.5 248.3,852.8" fill="none" stroke="#000" stroke-width="3.2" stroke-linejoin="miter"/>
<text x="131.4" y="1039.8" font-size="18.6" text-anchor="middle" fill="#000">P &lt; 0.0001</text>
<line x1="98.4" y1="1048.6" x2="153.8" y2="1048.6" stroke="#000" stroke-width="2.8" stroke-linecap="butt"/>
<text x="143.6" y="1090.8" font-size="18.6" text-anchor="middle" fill="#000">P &lt; 0.0001</text>
<polyline points="120.6,1107.5 120.6,1098.9 153.2,1098.9 153.2,1107.5" fill="none" stroke="#000" stroke-width="3.2" stroke-linejoin="miter"/>
<text x="331.8" y="1026" font-size="18.6" text-anchor="middle" fill="#000">P = 0.0005</text>
<line x1="292.4" y1="1036.8" x2="347.4" y2="1036.8" stroke="#000" stroke-width="2.8" stroke-linecap="butt"/>
<text x="331.4" y="1079.6" font-size="18.6" text-anchor="middle" fill="#000">P = 0.9333</text>
<polyline points="313.8,1100.6 313.8,1087.7 348,1087.7 348,1100.6" fill="none" stroke="#000" stroke-width="3.2" stroke-linejoin="miter"/>
<path d="M99.8,1177 C100.3,1177.67 101.97,1179.67 102.8,1181 C103.63,1182.33 104.72,1183.83 104.8,1185 C104.88,1186.17 104.13,1186.92 103.3,1188 C102.47,1189.08 100.38,1190.92 99.8,1191.5 C99.22,1190.92 97.13,1189.08 96.3,1188 C95.47,1186.92 94.72,1186.17 94.8,1185 C94.88,1183.83 95.97,1182.33 96.8,1181 C97.63,1179.67 99.3,1177.67 99.8,1177 Z" fill="#82C5C0"/>
<line x1="91.8" y1="1186" x2="107.8" y2="1186" stroke="#000" stroke-width="2.5" stroke-linecap="butt"/>
<circle cx="92.7" cy="1187.6" r="3.2" fill="#000"/>
<circle cx="100" cy="1187.6" r="3.2" fill="#000"/>
<circle cx="107.4" cy="1187.6" r="3.2" fill="#000"/>
<circle cx="96" cy="1183.6" r="3.2" fill="#000"/>
<circle cx="104" cy="1183.6" r="3.2" fill="#000"/>
<circle cx="100" cy="1180.2" r="3.2" fill="#000"/>
<circle cx="100" cy="1185" r="3.2" fill="#000"/>
<path d="M126.3,1135.6 C127.13,1137.17 129.97,1141.6 131.3,1145 C132.63,1148.4 134.3,1152.67 134.3,1156 C134.3,1159.33 132.63,1162.12 131.3,1165 C129.97,1167.88 127.13,1171.92 126.3,1173.3 C125.47,1171.92 122.63,1167.88 121.3,1165 C119.97,1162.12 118.3,1159.33 118.3,1156 C118.3,1152.67 119.97,1148.4 121.3,1145 C122.63,1141.6 125.47,1137.17 126.3,1135.6 Z" fill="#3B70B9"/>
<line x1="118.8" y1="1157.5" x2="133.8" y2="1157.5" stroke="#000" stroke-width="2.5" stroke-linecap="butt"/>
<circle cx="126.3" cy="1141" r="3.2" fill="#000"/>
<circle cx="126.3" cy="1145.5" r="3.2" fill="#000"/>
<circle cx="126.3" cy="1150" r="3.2" fill="#000"/>
<circle cx="124" cy="1154" r="3.2" fill="#000"/>
<circle cx="128.5" cy="1154" r="3.2" fill="#000"/>
<circle cx="118.8" cy="1163.5" r="3.2" fill="#000"/>
<circle cx="133.5" cy="1162.8" r="3.2" fill="#000"/>
<circle cx="126.3" cy="1162.8" r="3.2" fill="#000"/>
<circle cx="126.3" cy="1158" r="3.2" fill="#000"/>
<path d="M152.8,1175 C153.38,1175.67 155.3,1177.5 156.3,1179 C157.3,1180.5 158.8,1182.33 158.8,1184 C158.8,1185.67 157.3,1187.5 156.3,1189 C155.3,1190.5 153.38,1192.33 152.8,1193 C152.22,1192.33 150.3,1190.5 149.3,1189 C148.3,1187.5 146.8,1185.67 146.8,1184 C146.8,1182.33 148.3,1180.5 149.3,1179 C150.3,1177.5 152.22,1175.67 152.8,1175 Z" fill="#C68CBE"/>
<line x1="144.8" y1="1185" x2="160.8" y2="1185" stroke="#000" stroke-width="2.5" stroke-linecap="butt"/>
<circle cx="149.6" cy="1178" r="3.2" fill="#000"/>
<circle cx="156.3" cy="1178" r="3.2" fill="#000"/>
<circle cx="145.6" cy="1187" r="3.2" fill="#000"/>
<circle cx="152.9" cy="1184" r="3.2" fill="#000"/>
<circle cx="160.3" cy="1186" r="3.2" fill="#000"/>
<circle cx="152.9" cy="1188.5" r="3.2" fill="#000"/>
<circle cx="158" cy="1181" r="3.2" fill="#000"/>
<path d="M196.5,874.6 C197.17,875.83 199.33,879.1 200.5,882 C201.67,884.9 203.17,889 203.5,892 C203.83,895 203.67,897.43 202.5,900 C201.33,902.57 197.5,906.17 196.5,907.4 C195.5,906.17 191.67,902.57 190.5,900 C189.33,897.43 189.17,895 189.5,892 C189.83,889 191.33,884.9 192.5,882 C193.67,879.1 195.83,875.83 196.5,874.6 Z" fill="#82C5C0"/>
<line x1="187.5" y1="894.4" x2="205.5" y2="894.4" stroke="#000" stroke-width="2.5" stroke-linecap="butt"/>
<circle cx="189.2" cy="881" r="3.2" fill="#000"/>
<circle cx="196.5" cy="884.6" r="3.2" fill="#000"/>
<circle cx="196.5" cy="889.2" r="3.2" fill="#000"/>
<circle cx="189.2" cy="894.5" r="3.2" fill="#000"/>
<circle cx="204.5" cy="896.5" r="3.2" fill="#000"/>
<circle cx="197" cy="896" r="3.2" fill="#000"/>
<circle cx="189.2" cy="900.1" r="3.2" fill="#000"/>
<path d="M222.9,922 C223.65,923.67 226.23,928.67 227.4,932 C228.57,935.33 229.82,939 229.9,942 C229.98,945 229.07,947.28 227.9,950 C226.73,952.72 223.73,956.92 222.9,958.3 C222.07,956.92 219.07,952.72 217.9,950 C216.73,947.28 215.82,945 215.9,942 C215.98,939 217.23,935.33 218.4,932 C219.57,928.67 222.15,923.67 222.9,922 Z" fill="#3B70B9"/>
<line x1="215.9" y1="942" x2="229.9" y2="942" stroke="#000" stroke-width="2.5" stroke-linecap="butt"/>
<circle cx="222.9" cy="931" r="3.2" fill="#000"/>
<circle cx="222.9" cy="937" r="3.2" fill="#000"/>
<circle cx="219" cy="942" r="3.2" fill="#000"/>
<circle cx="226.5" cy="942" r="3.2" fill="#000"/>
<circle cx="222.9" cy="946" r="3.2" fill="#000"/>
<circle cx="219" cy="950" r="3.2" fill="#000"/>
<circle cx="226" cy="949" r="3.2" fill="#000"/>
<path d="M249.2,896.5 C250.03,897.92 252.95,902.08 254.2,905 C255.45,907.92 256.7,911.17 256.7,914 C256.7,916.83 255.45,919 254.2,922 C252.95,925 250.03,930.33 249.2,932 C248.37,930.33 245.45,925 244.2,922 C242.95,919 241.7,916.83 241.7,914 C241.7,911.17 242.95,907.92 244.2,905 C245.45,902.08 248.37,897.92 249.2,896.5 Z" fill="#C68CBE"/>
<line x1="242.2" y1="911" x2="256.2" y2="911" stroke="#000" stroke-width="2.5" stroke-linecap="butt"/>
<circle cx="249.2" cy="904" r="3.2" fill="#000"/>
<circle cx="246" cy="908" r="3.2" fill="#000"/>
<circle cx="252.5" cy="908" r="3.2" fill="#000"/>
<circle cx="243.5" cy="912" r="3.2" fill="#000"/>
<circle cx="255" cy="912" r="3.2" fill="#000"/>
<circle cx="249.2" cy="916" r="3.2" fill="#000"/>
<circle cx="249.2" cy="926" r="3.2" fill="#000"/>
<path d="M293.4,1160 C294.23,1161.33 297.07,1165 298.4,1168 C299.73,1171 301.4,1175 301.4,1178 C301.4,1181 299.73,1183.57 298.4,1186 C297.07,1188.43 294.23,1191.5 293.4,1192.6 C292.57,1191.5 289.73,1188.43 288.4,1186 C287.07,1183.57 285.4,1181 285.4,1178 C285.4,1175 287.07,1171 288.4,1168 C289.73,1165 292.57,1161.33 293.4,1160 Z" fill="#82C5C0"/>
<line x1="284.4" y1="1177.5" x2="302.4" y2="1177.5" stroke="#000" stroke-width="2.5" stroke-linecap="butt"/>
<circle cx="289.3" cy="1166.2" r="3.2" fill="#000"/>
<circle cx="297" cy="1166" r="3.2" fill="#000"/>
<circle cx="293.4" cy="1172" r="3.2" fill="#000"/>
<circle cx="286.3" cy="1177.4" r="3.2" fill="#000"/>
<circle cx="300.5" cy="1179.4" r="3.2" fill="#000"/>
<circle cx="293.4" cy="1180" r="3.2" fill="#000"/>
<circle cx="293.4" cy="1186.5" r="3.2" fill="#000"/>
<path d="M319.5,1128.5 C320.33,1130.42 323,1135.58 324.5,1140 C326,1144.42 328.33,1150.33 328.5,1155 C328.67,1159.67 327,1163.25 325.5,1168 C324,1172.75 320.5,1180.92 319.5,1183.5 C318.5,1180.92 315,1172.75 313.5,1168 C312,1163.25 310.33,1159.67 310.5,1155 C310.67,1150.33 313,1144.42 314.5,1140 C316,1135.58 318.67,1130.42 319.5,1128.5 Z" fill="#3B70B9"/>
<line x1="310.5" y1="1158.6" x2="328.5" y2="1158.6" stroke="#000" stroke-width="2.5" stroke-linecap="butt"/>
<circle cx="315.8" cy="1140.7" r="3.2" fill="#000"/>
<circle cx="323" cy="1143" r="3.2" fill="#000"/>
<circle cx="311.7" cy="1158.6" r="3.2" fill="#000"/>
<circle cx="326" cy="1158.6" r="3.2" fill="#000"/>
<circle cx="319.5" cy="1158.6" r="3.2" fill="#000"/>
<circle cx="319.5" cy="1165.1" r="3.2" fill="#000"/>
<circle cx="319.5" cy="1172.3" r="3.2" fill="#000"/>
<path d="M346.4,1131.5 C347.23,1133.25 350.07,1138.58 351.4,1142 C352.73,1145.42 354.23,1148.67 354.4,1152 C354.57,1155.33 353.73,1158.78 352.4,1162 C351.07,1165.22 347.4,1169.75 346.4,1171.3 C345.4,1169.75 341.73,1165.22 340.4,1162 C339.07,1158.78 338.23,1155.33 338.4,1152 C338.57,1148.67 340.07,1145.42 341.4,1142 C342.73,1138.58 345.57,1133.25 346.4,1131.5 Z" fill="#C68CBE"/>
<line x1="337.4" y1="1155" x2="355.4" y2="1155" stroke="#000" stroke-width="2.5" stroke-linecap="butt"/>
<circle cx="346.4" cy="1137.6" r="3.2" fill="#000"/>
<circle cx="353.5" cy="1149.5" r="3.2" fill="#000"/>
<circle cx="339.2" cy="1161" r="3.2" fill="#000"/>
<circle cx="353.5" cy="1161" r="3.2" fill="#000"/>
<circle cx="346.4" cy="1152" r="3.2" fill="#000"/>
<circle cx="346.4" cy="1157" r="3.2" fill="#000"/>
<circle cx="340" cy="1152" r="3.2" fill="#000"/>
<rect x="322.4" y="781.4" width="36.6" height="8" fill="#82C5C0"/>
<text x="381.8" y="793.8" font-size="21.6" text-anchor="start" fill="#000">Chow+Saline</text>
<rect x="322.4" y="821.2" width="36.6" height="8.1" fill="#3B70B9"/>
<text x="381.8" y="833.4" font-size="21.6" text-anchor="start" fill="#000">TPN+Saline</text>
<rect x="322.4" y="860.8" width="36.6" height="8.2" fill="#C68CBE"/>
<text x="381.8" y="873" font-size="21.6" text-anchor="start" fill="#000">TPN+Liraglutide</text>
<text x="135.8" y="1232.6" font-size="26.4" text-anchor="end" fill="#000" transform="rotate(-45 135.8 1232.6)">Fat mass</text>
<text x="234.2" y="1232.6" font-size="26.4" text-anchor="end" fill="#000" transform="rotate(-45 234.2 1232.6)">Lean body mass</text>
<text x="331.8" y="1232.6" font-size="26.4" text-anchor="end" fill="#000" transform="rotate(-45 331.8 1232.6)">Free water mass</text>
<line x1="661" y1="794.3" x2="661" y2="1214.4" stroke="#000" stroke-width="3" stroke-linecap="butt"/>
<line x1="659.5" y1="1212.9" x2="939.4" y2="1212.9" stroke="#000" stroke-width="3" stroke-linecap="butt"/>
<line x1="650.2" y1="795.8" x2="661" y2="795.8" stroke="#000" stroke-width="3" stroke-linecap="butt"/>
<text x="641.3" y="806.3" font-size="26" text-anchor="end" fill="#000">250</text>
<line x1="650.2" y1="865.4" x2="661" y2="865.4" stroke="#000" stroke-width="3" stroke-linecap="butt"/>
<text x="641.3" y="875.9" font-size="26" text-anchor="end" fill="#000">200</text>
<line x1="650.2" y1="935" x2="661" y2="935" stroke="#000" stroke-width="3" stroke-linecap="butt"/>
<text x="640.8" y="945.5" font-size="26" text-anchor="end" fill="#000">150</text>
<line x1="650.2" y1="1004.6" x2="661" y2="1004.6" stroke="#000" stroke-width="3" stroke-linecap="butt"/>
<text x="640.8" y="1015.1" font-size="26" text-anchor="end" fill="#000">100</text>
<line x1="650.2" y1="1074.2" x2="661" y2="1074.2" stroke="#000" stroke-width="3" stroke-linecap="butt"/>
<text x="642.9" y="1084.7" font-size="26" text-anchor="end" fill="#000">50</text>
<line x1="650.2" y1="1143.8" x2="661" y2="1143.8" stroke="#000" stroke-width="3" stroke-linecap="butt"/>
<text x="645.1" y="1154.3" font-size="26" text-anchor="end" fill="#000">0</text>
<line x1="650.2" y1="1213.4" x2="661" y2="1213.4" stroke="#000" stroke-width="3" stroke-linecap="butt"/>
<text x="641.3" y="1223.9" font-size="26" text-anchor="end" fill="#000">-50</text>
<line x1="706.8" y1="1212.9" x2="706.8" y2="1223" stroke="#000" stroke-width="3" stroke-linecap="butt"/>
<line x1="799" y1="1212.9" x2="799" y2="1223" stroke="#000" stroke-width="3" stroke-linecap="butt"/>
<line x1="891.7" y1="1212.9" x2="891.7" y2="1223" stroke="#000" stroke-width="3" stroke-linecap="butt"/>
<text x="580" y="1010.2" font-size="26.5" text-anchor="middle" fill="#000" transform="rotate(-90 580 1010.2)">ALT(IU/L)</text>
<text x="557" y="739.8" font-size="26" text-anchor="middle" fill="#000">e</text>
<text x="791.1" y="734.1" font-size="18.6" text-anchor="middle" fill="#000">P = 0.0089</text>
<line x1="687.3" y1="744.5" x2="882.6" y2="744.5" stroke="#000" stroke-width="2.8" stroke-linecap="butt"/>
<text x="849.8" y="807" font-size="18.6" text-anchor="middle" fill="#000">P = 0.3085</text>
<polyline points="805.6,831.6 805.6,814.5 887.9,814.5 887.9,831.6" fill="none" stroke="#000" stroke-width="3.2" stroke-linejoin="miter"/>
<text x="754" y="874.1" font-size="18.6" text-anchor="middle" fill="#000">P = 0.0305</text>
<polyline points="706.6,902.5 706.6,883.6 795.9,883.6 795.9,902.5" fill="none" stroke="#000" stroke-width="3.2" stroke-linejoin="miter"/>
<path d="M706.8,1048.7 C707.73,1050.43 710.8,1056.03 712.4,1059.1 C714,1062.17 714.6,1064.43 716.4,1067.1 C718.2,1069.77 721,1072.43 723.2,1075.1 C725.4,1077.77 727.97,1080.43 729.6,1083.1 C731.23,1085.77 732.87,1088.43 733,1091.1 C733.13,1093.77 731.57,1096.43 730.4,1099.1 C729.23,1101.77 727.8,1104.43 726,1107.1 C724.2,1109.77 722,1112.43 719.6,1115.1 C717.2,1117.77 713.73,1120.95 711.6,1123.1 C709.47,1125.25 707.6,1127.18 706.8,1128 C706,1127.18 704.13,1125.25 702,1123.1 C699.87,1120.95 696.4,1117.77 694,1115.1 C691.6,1112.43 689.4,1109.77 687.6,1107.1 C685.8,1104.43 684.37,1101.77 683.2,1099.1 C682.03,1096.43 680.47,1093.77 680.6,1091.1 C680.73,1088.43 682.37,1085.77 684,1083.1 C685.63,1080.43 688.2,1077.77 690.4,1075.1 C692.6,1072.43 695.4,1069.77 697.2,1067.1 C699,1064.43 699.6,1062.17 701.2,1059.1 C702.8,1056.03 705.87,1050.43 706.8,1048.7 Z" fill="#82C5C0"/>
<line x1="684.8" y1="1106.5" x2="728.8" y2="1106.5" stroke="#000" stroke-width="2.2" stroke-linecap="butt" stroke-dasharray="2.2,4.4"/>
<line x1="684.8" y1="1083" x2="728.8" y2="1083" stroke="#000" stroke-width="2.2" stroke-linecap="butt" stroke-dasharray="2.2,4.4"/>
<line x1="680.8" y1="1091.6" x2="732.8" y2="1091.6" stroke="#000" stroke-width="3" stroke-linecap="butt"/>
<circle cx="706.8" cy="1062.8" r="5" fill="#000"/>
<circle cx="699.6" cy="1083.7" r="5" fill="#000"/>
<circle cx="714" cy="1083.7" r="5" fill="#000"/>
<circle cx="699.6" cy="1093.3" r="5" fill="#000"/>
<circle cx="714" cy="1092.1" r="5" fill="#000"/>
<circle cx="714" cy="1106.5" r="5" fill="#000"/>
<circle cx="699.6" cy="1111.3" r="5" fill="#000"/>
<path d="M799,920.6 C799.33,922.33 800.37,926.6 801,931 C801.63,935.4 802.5,941.67 802.8,947 C803.1,952.33 802.57,957.67 802.8,963 C803.03,968.33 803.73,975 804.2,979 C804.67,983 804.87,984.33 805.6,987 C806.33,989.67 807.37,992.33 808.6,995 C809.83,997.67 811.8,1000.33 813,1003 C814.2,1005.67 814.8,1008.33 815.8,1011 C816.8,1013.67 818.07,1016.33 819,1019 C819.93,1021.67 820.6,1024.33 821.4,1027 C822.2,1029.67 823.2,1032.33 823.8,1035 C824.4,1037.67 824.9,1040.33 825,1043 C825.1,1045.67 824.93,1048.33 824.4,1051 C823.87,1053.67 822.77,1056.33 821.8,1059 C820.83,1061.67 819.8,1064.33 818.6,1067 C817.4,1069.67 815.93,1072.33 814.6,1075 C813.27,1077.67 811.93,1080.33 810.6,1083 C809.27,1085.67 807.7,1088.33 806.6,1091 C805.5,1093.67 804.8,1096.33 804,1099 C803.2,1101.67 802.63,1103.65 801.8,1107 C800.97,1110.35 799.47,1117.08 799,1119.1 C798.53,1117.08 797.03,1110.35 796.2,1107 C795.37,1103.65 794.8,1101.67 794,1099 C793.2,1096.33 792.5,1093.67 791.4,1091 C790.3,1088.33 788.73,1085.67 787.4,1083 C786.07,1080.33 784.73,1077.67 783.4,1075 C782.07,1072.33 780.6,1069.67 779.4,1067 C778.2,1064.33 777.17,1061.67 776.2,1059 C775.23,1056.33 774.13,1053.67 773.6,1051 C773.07,1048.33 772.9,1045.67 773,1043 C773.1,1040.33 773.6,1037.67 774.2,1035 C774.8,1032.33 775.8,1029.67 776.6,1027 C777.4,1024.33 778.07,1021.67 779,1019 C779.93,1016.33 781.2,1013.67 782.2,1011 C783.2,1008.33 783.8,1005.67 785,1003 C786.2,1000.33 788.17,997.67 789.4,995 C790.63,992.33 791.67,989.67 792.4,987 C793.13,984.33 793.33,983 793.8,979 C794.27,975 794.97,968.33 795.2,963 C795.43,957.67 794.9,952.33 795.2,947 C795.5,941.67 796.37,935.4 797,931 C797.63,926.6 798.67,922.33 799,920.6 Z" fill="#3B70B9"/>
<line x1="775" y1="1052.5" x2="823" y2="1052.5" stroke="#000" stroke-width="2.2" stroke-linecap="butt" stroke-dasharray="2.2,4.4"/>
<line x1="786" y1="1006.4" x2="812" y2="1006.4" stroke="#000" stroke-width="2.2" stroke-linecap="butt" stroke-dasharray="2.2,4.4"/>
<line x1="773" y1="1041.7" x2="825" y2="1041.7" stroke="#000" stroke-width="3" stroke-linecap="butt"/>
<circle cx="799" cy="951.6" r="5" fill="#000"/>
<circle cx="799" cy="1006.9" r="5" fill="#000"/>
<circle cx="791.8" cy="1038.8" r="5" fill="#000"/>
<circle cx="806.2" cy="1042.2" r="5" fill="#000"/>
<circle cx="791.8" cy="1052.5" r="5" fill="#000"/>
<circle cx="806.2" cy="1052.5" r="5" fill="#000"/>
<circle cx="799" cy="1086.8" r="5" fill="#000"/>
<path d="M891.7,993.5 C892.23,995.08 893.97,1000.08 894.9,1003 C895.83,1005.92 896.17,1007 897.3,1011 C898.43,1015 900.17,1021.67 901.7,1027 C903.23,1032.33 905.17,1039 906.5,1043 C907.83,1047 908.5,1048.33 909.7,1051 C910.9,1053.67 912.38,1056.32 913.7,1059 C915.02,1061.68 917.07,1064.43 917.6,1067.1 C918.13,1069.77 917.42,1072.35 916.9,1075 C916.38,1077.65 915.57,1080.33 914.5,1083 C913.43,1085.67 911.97,1088.33 910.5,1091 C909.03,1093.67 907.3,1096.33 905.7,1099 C904.1,1101.67 902.5,1104.33 900.9,1107 C899.3,1109.67 897.63,1111.65 896.1,1115 C894.57,1118.35 892.43,1125.08 891.7,1127.1 C890.97,1125.08 888.83,1118.35 887.3,1115 C885.77,1111.65 884.1,1109.67 882.5,1107 C880.9,1104.33 879.3,1101.67 877.7,1099 C876.1,1096.33 874.37,1093.67 872.9,1091 C871.43,1088.33 869.97,1085.67 868.9,1083 C867.83,1080.33 867.02,1077.65 866.5,1075 C865.98,1072.35 865.27,1069.77 865.8,1067.1 C866.33,1064.43 868.38,1061.68 869.7,1059 C871.02,1056.32 872.5,1053.67 873.7,1051 C874.9,1048.33 875.57,1047 876.9,1043 C878.23,1039 880.17,1032.33 881.7,1027 C883.23,1021.67 884.97,1015 886.1,1011 C887.23,1007 887.57,1005.92 888.5,1003 C889.43,1000.08 891.17,995.08 891.7,993.5 Z" fill="#C68CBE"/>
<line x1="867.7" y1="1080.1" x2="915.7" y2="1080.1" stroke="#000" stroke-width="2.2" stroke-linecap="butt" stroke-dasharray="2.2,4.4"/>
<line x1="876.7" y1="1043.6" x2="906.7" y2="1043.6" stroke="#000" stroke-width="2.2" stroke-linecap="butt" stroke-dasharray="2.2,4.4"/>
<line x1="865.7" y1="1069.3" x2="917.7" y2="1069.3" stroke="#000" stroke-width="3" stroke-linecap="butt"/>
<circle cx="891.7" cy="1017.7" r="5" fill="#000"/>
<circle cx="891.7" cy="1043.6" r="5" fill="#000"/>
<circle cx="884.5" cy="1065.2" r="5" fill="#000"/>
<circle cx="898.9" cy="1069.3" r="5" fill="#000"/>
<circle cx="884.5" cy="1080.1" r="5" fill="#000"/>
<circle cx="898.9" cy="1080.1" r="5" fill="#000"/>
<circle cx="891.7" cy="1099.3" r="5" fill="#000"/>
<text x="718.2" y="1246" font-size="26.4" text-anchor="end" fill="#000" transform="rotate(-45 718.2 1246)">Chow+Saline</text>
<text x="808.2" y="1246" font-size="26.4" text-anchor="end" fill="#000" transform="rotate(-45 808.2 1246)">TPN+Saline</text>
<text x="901.1" y="1246" font-size="26.4" text-anchor="end" fill="#000" transform="rotate(-45 901.1 1246)">TPN+Liraglutide</text>
<line x1="1056.7" y1="788.7" x2="1056.7" y2="1209.7" stroke="#000" stroke-width="3" stroke-linecap="butt"/>
<line x1="1046.3" y1="1208.2" x2="1335.3" y2="1208.2" stroke="#000" stroke-width="3" stroke-linecap="butt"/>
<line x1="1046.1" y1="790.2" x2="1056.7" y2="790.2" stroke="#000" stroke-width="3" stroke-linecap="butt"/>
<text x="1037.4" y="800.7" font-size="26" text-anchor="end" fill="#000">400</text>
<line x1="1046.1" y1="894.7" x2="1056.7" y2="894.7" stroke="#000" stroke-width="3" stroke-linecap="butt"/>
<text x="1037.3" y="905.2" font-size="26" text-anchor="end" fill="#000">300</text>
<line x1="1046.1" y1="999.2" x2="1056.7" y2="999.2" stroke="#000" stroke-width="3" stroke-linecap="butt"/>
<text x="1036.8" y="1009.7" font-size="26" text-anchor="end" fill="#000">200</text>
<line x1="1046.1" y1="1103.7" x2="1056.7" y2="1103.7" stroke="#000" stroke-width="3" stroke-linecap="butt"/>
<text x="1036.8" y="1114.2" font-size="26" text-anchor="end" fill="#000">100</text>
<text x="1040.8" y="1218.7" font-size="26" text-anchor="end" fill="#000">0</text>
<line x1="1102.7" y1="1208.2" x2="1102.7" y2="1218" stroke="#000" stroke-width="3" stroke-linecap="butt"/>
<line x1="1195.1" y1="1208.2" x2="1195.1" y2="1218" stroke="#000" stroke-width="3" stroke-linecap="butt"/>
<line x1="1287.5" y1="1208.2" x2="1287.5" y2="1218" stroke="#000" stroke-width="3" stroke-linecap="butt"/>
<text x="977" y="1005.3" font-size="26" text-anchor="middle" fill="#000" transform="rotate(-90 977 1005.3)">AST(IU/L)</text>
<text x="1190.5" y="732.6" font-size="18.6" text-anchor="middle" fill="#000">P = 0.0115</text>
<line x1="1083" y1="739.2" x2="1279" y2="739.2" stroke="#000" stroke-width="2.8" stroke-linecap="butt"/>
<text x="1132" y="789" font-size="18.6" text-anchor="middle" fill="#000">P = 0.0231</text>
<polyline points="1095.9,818.3 1095.9,797.1 1178,797.1 1178,818.3" fill="none" stroke="#000" stroke-width="3.2" stroke-linejoin="miter"/>
<text x="1238.5" y="817.4" font-size="18.6" text-anchor="middle" fill="#000">P = 0.3244</text>
<polyline points="1196.2,842.3 1196.2,825.3 1279,825.3 1279,842.3" fill="none" stroke="#000" stroke-width="3.2" stroke-linejoin="miter"/>
<path d="M1102.7,1059.2 C1103.12,1060.33 1104.37,1063.82 1105.2,1066 C1106.03,1068.18 1106.95,1069.97 1107.7,1072.3 C1108.45,1074.63 1108.87,1077.45 1109.7,1080 C1110.53,1082.55 1111.2,1085.1 1112.7,1087.6 C1114.2,1090.1 1116.7,1092.6 1118.7,1095 C1120.7,1097.4 1123,1099.52 1124.7,1102 C1126.4,1104.48 1128.73,1107.23 1128.9,1109.9 C1129.07,1112.57 1127.02,1115.35 1125.7,1118 C1124.38,1120.65 1123.5,1123.23 1121,1125.8 C1118.5,1128.37 1113.75,1131.13 1110.7,1133.4 C1107.65,1135.67 1104.03,1138.4 1102.7,1139.4 C1101.37,1138.4 1097.75,1135.67 1094.7,1133.4 C1091.65,1131.13 1086.9,1128.37 1084.4,1125.8 C1081.9,1123.23 1081.02,1120.65 1079.7,1118 C1078.38,1115.35 1076.33,1112.57 1076.5,1109.9 C1076.67,1107.23 1079,1104.48 1080.7,1102 C1082.4,1099.52 1084.7,1097.4 1086.7,1095 C1088.7,1092.6 1091.2,1090.1 1092.7,1087.6 C1094.2,1085.1 1094.87,1082.55 1095.7,1080 C1096.53,1077.45 1096.95,1074.63 1097.7,1072.3 C1098.45,1069.97 1099.37,1068.18 1100.2,1066 C1101.03,1063.82 1102.28,1060.33 1102.7,1059.2 Z" fill="#82C5C0"/>
<line x1="1078.7" y1="1117.3" x2="1126.7" y2="1117.3" stroke="#000" stroke-width="2.2" stroke-linecap="butt" stroke-dasharray="2.2,4.4"/>
<line x1="1092.7" y1="1088.1" x2="1112.7" y2="1088.1" stroke="#000" stroke-width="2.2" stroke-linecap="butt" stroke-dasharray="2.2,4.4"/>
<line x1="1076.7" y1="1110.5" x2="1128.7" y2="1110.5" stroke="#000" stroke-width="3" stroke-linecap="butt"/>
<circle cx="1102.7" cy="1073.4" r="5" fill="#000"/>
<circle cx="1102.7" cy="1088.1" r="5" fill="#000"/>
<circle cx="1088.5" cy="1109.9" r="5" fill="#000"/>
<circle cx="1116.4" cy="1107.1" r="5" fill="#000"/>
<circle cx="1102.7" cy="1113" r="5" fill="#000"/>
<circle cx="1088.5" cy="1119.4" r="5" fill="#000"/>
<circle cx="1116.4" cy="1117.7" r="5" fill="#000"/>
<path d="M1195.1,959.9 C1196.25,963.35 1199.67,974.6 1202,980.6 C1204.33,986.6 1207.08,990.82 1209.1,995.9 C1211.12,1000.98 1212.48,1006.02 1214.1,1011.1 C1215.72,1016.18 1217.63,1021.3 1218.8,1026.4 C1219.97,1031.5 1221.05,1036.6 1221.1,1041.7 C1221.15,1046.8 1220.18,1051.9 1219.1,1057 C1218.02,1062.1 1215.98,1067.2 1214.6,1072.3 C1213.22,1077.4 1212.22,1082.5 1210.8,1087.6 C1209.38,1092.7 1207.57,1097.82 1206.1,1102.9 C1204.63,1107.98 1203.33,1113.02 1202,1118.1 C1200.67,1123.18 1199.25,1128.55 1198.1,1133.4 C1196.95,1138.25 1195.6,1144.9 1195.1,1147.2 C1194.6,1144.9 1193.25,1138.25 1192.1,1133.4 C1190.95,1128.55 1189.53,1123.18 1188.2,1118.1 C1186.87,1113.02 1185.57,1107.98 1184.1,1102.9 C1182.63,1097.82 1180.82,1092.7 1179.4,1087.6 C1177.98,1082.5 1176.98,1077.4 1175.6,1072.3 C1174.22,1067.2 1172.18,1062.1 1171.1,1057 C1170.02,1051.9 1169.05,1046.8 1169.1,1041.7 C1169.15,1036.6 1170.23,1031.5 1171.4,1026.4 C1172.57,1021.3 1174.48,1016.18 1176.1,1011.1 C1177.72,1006.02 1179.08,1000.98 1181.1,995.9 C1183.12,990.82 1185.87,986.6 1188.2,980.6 C1190.53,974.6 1193.95,963.35 1195.1,959.9 Z" fill="#3B70B9"/>
<line x1="1176.1" y1="1083.9" x2="1214.1" y2="1083.9" stroke="#000" stroke-width="2.2" stroke-linecap="butt" stroke-dasharray="2.2,4.4"/>
<line x1="1170.1" y1="1030.7" x2="1220.1" y2="1030.7" stroke="#000" stroke-width="2.2" stroke-linecap="butt" stroke-dasharray="2.2,4.4"/>
<line x1="1169.1" y1="1037.1" x2="1221.1" y2="1037.1" stroke="#000" stroke-width="3" stroke-linecap="butt"/>
<circle cx="1195.1" cy="997.4" r="5" fill="#000"/>
<circle cx="1181.4" cy="1030.7" r="5" fill="#000"/>
<circle cx="1208.8" cy="1035.4" r="5" fill="#000"/>
<circle cx="1195.1" cy="1037.5" r="5" fill="#000"/>
<circle cx="1195.1" cy="1064.5" r="5" fill="#000"/>
<circle cx="1195.1" cy="1083.9" r="5" fill="#000"/>
<circle cx="1195.1" cy="1108.8" r="5" fill="#000"/>
<path d="M1287.5,1000.4 C1288,1002.18 1289.5,1006.77 1290.5,1011.1 C1291.5,1015.43 1292.33,1021.3 1293.5,1026.4 C1294.67,1031.5 1296.27,1036.6 1297.5,1041.7 C1298.73,1046.8 1299.57,1051.9 1300.9,1057 C1302.23,1062.1 1303.65,1067.2 1305.5,1072.3 C1307.35,1077.4 1310.65,1083.53 1312,1087.6 C1313.35,1091.67 1313.55,1094.15 1313.6,1096.7 C1313.65,1099.25 1313.6,1099.33 1312.3,1102.9 C1311,1106.47 1308.67,1113.02 1305.8,1118.1 C1302.93,1123.18 1298.15,1128.68 1295.1,1133.4 C1292.05,1138.12 1288.77,1144.23 1287.5,1146.4 C1286.23,1144.23 1282.95,1138.12 1279.9,1133.4 C1276.85,1128.68 1272.07,1123.18 1269.2,1118.1 C1266.33,1113.02 1264,1106.47 1262.7,1102.9 C1261.4,1099.33 1261.35,1099.25 1261.4,1096.7 C1261.45,1094.15 1261.65,1091.67 1263,1087.6 C1264.35,1083.53 1267.65,1077.4 1269.5,1072.3 C1271.35,1067.2 1272.77,1062.1 1274.1,1057 C1275.43,1051.9 1276.27,1046.8 1277.5,1041.7 C1278.73,1036.6 1280.33,1031.5 1281.5,1026.4 C1282.67,1021.3 1283.5,1015.43 1284.5,1011.1 C1285.5,1006.77 1287,1002.18 1287.5,1000.4 Z" fill="#C68CBE"/>
<line x1="1261.5" y1="1100.4" x2="1313.5" y2="1100.4" stroke="#000" stroke-width="2.2" stroke-linecap="butt" stroke-dasharray="2.2,4.4"/>
<line x1="1274.5" y1="1058.2" x2="1300.5" y2="1058.2" stroke="#000" stroke-width="2.2" stroke-linecap="butt" stroke-dasharray="2.2,4.4"/>
<line x1="1261.5" y1="1097.2" x2="1313.5" y2="1097.2" stroke="#000" stroke-width="3" stroke-linecap="butt"/>
<circle cx="1287.5" cy="1026.1" r="5" fill="#000"/>
<circle cx="1287.5" cy="1058.2" r="5" fill="#000"/>
<circle cx="1287.5" cy="1073.4" r="5" fill="#000"/>
<circle cx="1273.8" cy="1096.6" r="5" fill="#000"/>
<circle cx="1301.7" cy="1100" r="5" fill="#000"/>
<circle cx="1287.5" cy="1100.8" r="5" fill="#000"/>
<circle cx="1287.5" cy="1109.9" r="5" fill="#000"/>
<text x="1113.1" y="1241.5" font-size="26.4" text-anchor="end" fill="#000" transform="rotate(-45 1113.1 1241.5)">Chow+Saline</text>
<text x="1203.1" y="1241.5" font-size="26.4" text-anchor="end" fill="#000" transform="rotate(-45 1203.1 1241.5)">TPN+Saline</text>
<text x="1296" y="1241.5" font-size="26.4" text-anchor="end" fill="#000" transform="rotate(-45 1296 1241.5)">TPN+Liraglutide</text>
<line x1="1451.6" y1="775.3" x2="1451.6" y2="1209.5" stroke="#000" stroke-width="3" stroke-linecap="butt"/>
<line x1="1441.1" y1="1208" x2="1740.7" y2="1208" stroke="#000" stroke-width="3" stroke-linecap="butt"/>
<line x1="1440.4" y1="776.8" x2="1451.6" y2="776.8" stroke="#000" stroke-width="3" stroke-linecap="butt"/>
<text x="1434.5" y="787.3" font-size="26" text-anchor="end" fill="#000">8</text>
<line x1="1440.4" y1="884.6" x2="1451.6" y2="884.6" stroke="#000" stroke-width="3" stroke-linecap="butt"/>
<text x="1434.5" y="895.1" font-size="26" text-anchor="end" fill="#000">6</text>
<line x1="1440.4" y1="992.4" x2="1451.6" y2="992.4" stroke="#000" stroke-width="3" stroke-linecap="butt"/>
<text x="1434.5" y="1002.9" font-size="26" text-anchor="end" fill="#000">4</text>
<line x1="1440.4" y1="1100.2" x2="1451.6" y2="1100.2" stroke="#000" stroke-width="3" stroke-linecap="butt"/>
<text x="1434.5" y="1110.7" font-size="26" text-anchor="end" fill="#000">2</text>
<line x1="1440.4" y1="1208" x2="1451.6" y2="1208" stroke="#000" stroke-width="3" stroke-linecap="butt"/>
<text x="1434.5" y="1218.5" font-size="26" text-anchor="end" fill="#000">0</text>
<line x1="1499.3" y1="1208" x2="1499.3" y2="1218.6" stroke="#000" stroke-width="3" stroke-linecap="butt"/>
<line x1="1595.1" y1="1208" x2="1595.1" y2="1218.6" stroke="#000" stroke-width="3" stroke-linecap="butt"/>
<line x1="1691" y1="1208" x2="1691" y2="1218.6" stroke="#000" stroke-width="3" stroke-linecap="butt"/>
<text x="1400.3" y="991.4" font-size="26.5" text-anchor="middle" fill="#000" transform="rotate(-90 1400.3 991.4)">Liver weight/Body weight (%)</text>
<text x="1376" y="740.1" font-size="26" text-anchor="middle" fill="#000">f</text>
<text x="1597.5" y="737.9" font-size="22.6" text-anchor="middle" fill="#000">P = 0.0357</text>
<line x1="1493.4" y1="744.9" x2="1702.9" y2="744.9" stroke="#000" stroke-width="2.8" stroke-linecap="butt"/>
<text x="1655.5" y="791.8" font-size="22.6" text-anchor="middle" fill="#000">P = 0.1633</text>
<polyline points="1606.6,817.3 1606.6,799.9 1689.7,799.9 1689.7,817.3" fill="none" stroke="#000" stroke-width="3.2" stroke-linejoin="miter"/>
<text x="1553.8" y="834.7" font-size="22.6" text-anchor="middle" fill="#000">P = 0.1362</text>
<polyline points="1508.6,861.8 1508.6,845.3 1590.5,845.3 1590.5,861.8" fill="none" stroke="#000" stroke-width="3.2" stroke-linejoin="miter"/>
<path d="M1499.3,938.5 C1501.17,939.95 1505.98,944.18 1510.5,947.2 C1515.02,950.22 1525.98,953.48 1526.4,956.6 C1526.82,959.72 1517.52,963.2 1513,965.9 C1508.48,968.6 1501.58,971.65 1499.3,972.8 C1497.02,971.65 1490.12,968.6 1485.6,965.9 C1481.08,963.2 1471.78,959.72 1472.2,956.6 C1472.62,953.48 1483.58,950.22 1488.1,947.2 C1492.62,944.18 1497.43,939.95 1499.3,938.5 Z" fill="#82C5C0"/>
<line x1="1481.3" y1="964.5" x2="1517.3" y2="964.5" stroke="#000" stroke-width="2.2" stroke-linecap="butt" stroke-dasharray="2.2,4.4"/>
<line x1="1481.3" y1="947" x2="1517.3" y2="947" stroke="#000" stroke-width="2.2" stroke-linecap="butt" stroke-dasharray="2.2,4.4"/>
<line x1="1472.3" y1="956.1" x2="1526.3" y2="956.1" stroke="#000" stroke-width="3" stroke-linecap="butt"/>
<circle cx="1491.7" cy="947" r="5" fill="#000"/>
<circle cx="1506" cy="945.1" r="5" fill="#000"/>
<circle cx="1484.4" cy="954.8" r="5" fill="#000"/>
<circle cx="1513.3" cy="954.8" r="5" fill="#000"/>
<circle cx="1499.3" cy="958.3" r="5" fill="#000"/>
<circle cx="1484.4" cy="965" r="5" fill="#000"/>
<circle cx="1513.3" cy="965" r="5" fill="#000"/>
<path d="M1594.9,868.1 C1595.47,869.87 1597.22,874.87 1598.3,878.7 C1599.38,882.53 1600.35,886.95 1601.4,891.1 C1602.45,895.25 1603.25,899.43 1604.6,903.6 C1605.95,907.77 1607.63,911.95 1609.5,916.1 C1611.37,920.25 1613.82,924.35 1615.8,928.5 C1617.78,932.65 1620.37,937.88 1621.4,941 C1622.43,944.12 1622.1,945.13 1622,947.2 C1621.9,949.27 1622.25,950.28 1620.8,953.4 C1619.35,956.52 1616.42,961.73 1613.3,965.9 C1610.18,970.07 1605.17,974.97 1602.1,978.4 C1599.03,981.83 1596.1,985.15 1594.9,986.5 C1593.7,985.15 1590.77,981.83 1587.7,978.4 C1584.63,974.97 1579.62,970.07 1576.5,965.9 C1573.38,961.73 1570.45,956.52 1569,953.4 C1567.55,950.28 1567.9,949.27 1567.8,947.2 C1567.7,945.13 1567.37,944.12 1568.4,941 C1569.43,937.88 1572.02,932.65 1574,928.5 C1575.98,924.35 1578.43,920.25 1580.3,916.1 C1582.17,911.95 1583.85,907.77 1585.2,903.6 C1586.55,899.43 1587.35,895.25 1588.4,891.1 C1589.45,886.95 1590.42,882.53 1591.5,878.7 C1592.58,874.87 1594.33,869.87 1594.9,868.1 Z" fill="#3B70B9"/>
<line x1="1570.9" y1="952.1" x2="1618.9" y2="952.1" stroke="#000" stroke-width="2.2" stroke-linecap="butt" stroke-dasharray="2.2,4.4"/>
<line x1="1577.9" y1="915.7" x2="1611.9" y2="915.7" stroke="#000" stroke-width="2.2" stroke-linecap="butt" stroke-dasharray="2.2,4.4"/>
<line x1="1567.4" y1="944.8" x2="1622.4" y2="944.8" stroke="#000" stroke-width="3" stroke-linecap="butt"/>
<circle cx="1594.9" cy="889.6" r="5" fill="#000"/>
<circle cx="1594.9" cy="915.7" r="5" fill="#000"/>
<circle cx="1594.9" cy="926.8" r="5" fill="#000"/>
<circle cx="1580" cy="944.8" r="5" fill="#000"/>
<circle cx="1594.9" cy="948.9" r="5" fill="#000"/>
<circle cx="1609.1" cy="952.1" r="5" fill="#000"/>
<circle cx="1580" cy="955.6" r="5" fill="#000"/>
<path d="M1690.5,914.8 C1691.07,916.05 1692.4,918.97 1693.9,922.3 C1695.4,925.63 1697.83,931.68 1699.5,934.8 C1701.17,937.92 1702.18,938.93 1703.9,941 C1705.62,943.07 1707.62,944.6 1709.8,947.2 C1711.98,949.8 1716.12,953.48 1717,956.6 C1717.88,959.72 1716.45,963.32 1715.1,965.9 C1713.75,968.48 1710.98,970.02 1708.9,972.1 C1706.82,974.18 1704.68,976.32 1702.6,978.4 C1700.52,980.48 1698.42,982.43 1696.4,984.6 C1694.38,986.77 1691.48,990.27 1690.5,991.4 C1689.52,990.27 1686.62,986.77 1684.6,984.6 C1682.58,982.43 1680.48,980.48 1678.4,978.4 C1676.32,976.32 1674.18,974.18 1672.1,972.1 C1670.02,970.02 1667.25,968.48 1665.9,965.9 C1664.55,963.32 1663.12,959.72 1664,956.6 C1664.88,953.48 1669.02,949.8 1671.2,947.2 C1673.38,944.6 1675.38,943.07 1677.1,941 C1678.82,938.93 1679.83,937.92 1681.5,934.8 C1683.17,931.68 1685.6,925.63 1687.1,922.3 C1688.6,918.97 1689.93,916.05 1690.5,914.8 Z" fill="#C68CBE"/>
<line x1="1667.5" y1="968.5" x2="1713.5" y2="968.5" stroke="#000" stroke-width="2.2" stroke-linecap="butt" stroke-dasharray="2.2,4.4"/>
<line x1="1673.5" y1="944.3" x2="1707.5" y2="944.3" stroke="#000" stroke-width="2.2" stroke-linecap="butt" stroke-dasharray="2.2,4.4"/>
<line x1="1664" y1="956.1" x2="1717" y2="956.1" stroke="#000" stroke-width="3" stroke-linecap="butt"/>
<circle cx="1690.5" cy="928.7" r="5" fill="#000"/>
<circle cx="1690.5" cy="944" r="5" fill="#000"/>
<circle cx="1683.7" cy="955.6" r="5" fill="#000"/>
<circle cx="1698.5" cy="955.6" r="5" fill="#000"/>
<circle cx="1683.7" cy="965" r="5" fill="#000"/>
<circle cx="1698.5" cy="969.1" r="5" fill="#000"/>
<circle cx="1683.7" cy="975.3" r="5" fill="#000"/>
<text x="1507.7" y="1238" font-size="26.4" text-anchor="end" fill="#000" transform="rotate(-45 1507.7 1238)">Chow+Saline</text>
<text x="1605.2" y="1238" font-size="26.4" text-anchor="end" fill="#000" transform="rotate(-45 1605.2 1238)">TPN+Saline</text>
<text x="1702.1" y="1238" font-size="26.4" text-anchor="end" fill="#000" transform="rotate(-45 1702.1 1238)">TPN+Liraglutide</text>
<line x1="1882.2" y1="781.2" x2="1882.2" y2="1208.5" stroke="#000" stroke-width="3" stroke-linecap="butt"/>
<line x1="1872.5" y1="1207" x2="2167" y2="1207" stroke="#000" stroke-width="3" stroke-linecap="butt"/>
<line x1="1872.4" y1="782.7" x2="1882.2" y2="782.7" stroke="#000" stroke-width="3" stroke-linecap="butt"/>
<text x="1865.5" y="793.2" font-size="26" text-anchor="end" fill="#000">10</text>
<line x1="1872.4" y1="924.2" x2="1882.2" y2="924.2" stroke="#000" stroke-width="3" stroke-linecap="butt"/>
<text x="1865.5" y="934.7" font-size="26" text-anchor="end" fill="#000">5</text>
<line x1="1872.4" y1="1065.7" x2="1882.2" y2="1065.7" stroke="#000" stroke-width="3" stroke-linecap="butt"/>
<text x="1865.5" y="1076.2" font-size="26" text-anchor="end" fill="#000">0</text>
<line x1="1872.4" y1="1207.2" x2="1882.2" y2="1207.2" stroke="#000" stroke-width="3" stroke-linecap="butt"/>
<text x="1865.5" y="1217.7" font-size="26" text-anchor="end" fill="#000">-5</text>
<line x1="1929.5" y1="1207" x2="1929.5" y2="1218" stroke="#000" stroke-width="3" stroke-linecap="butt"/>
<line x1="2023.7" y1="1207" x2="2023.7" y2="1218" stroke="#000" stroke-width="3" stroke-linecap="butt"/>
<line x1="2117.8" y1="1207" x2="2117.8" y2="1218" stroke="#000" stroke-width="3" stroke-linecap="butt"/>
<text x="1819.9" y="1009.8" font-size="26" text-anchor="middle" fill="#000" transform="rotate(-90 1819.9 1009.8)">Serum LPS (ng/ml)</text>
<text x="1802.7" y="740.7" font-size="26" text-anchor="middle" fill="#000">g</text>
<text x="2019.7" y="738.8" font-size="18.6" text-anchor="middle" fill="#000">P = 0.0859</text>
<line x1="1918.2" y1="743.5" x2="2117.2" y2="743.5" stroke="#000" stroke-width="2.8" stroke-linecap="butt"/>
<path d="M1929.5,1025.5 C1930.83,1026.25 1935.33,1028.47 1937.5,1030 C1939.67,1031.53 1942.5,1033.12 1942.5,1034.7 C1942.5,1036.28 1939.67,1037.97 1937.5,1039.5 C1935.33,1041.03 1930.83,1043.17 1929.5,1043.9 C1928.17,1043.17 1923.67,1041.03 1921.5,1039.5 C1919.33,1037.97 1916.5,1036.28 1916.5,1034.7 C1916.5,1033.12 1919.33,1031.53 1921.5,1030 C1923.67,1028.47 1928.17,1026.25 1929.5,1025.5 Z" fill="#82C5C0"/>
<line x1="1921.5" y1="1028.5" x2="1937.5" y2="1028.5" stroke="#000" stroke-width="2.2" stroke-linecap="butt" stroke-dasharray="2.2,4.4"/>
<line x1="1902.5" y1="1036.4" x2="1956.5" y2="1036.4" stroke="#000" stroke-width="3" stroke-linecap="butt"/>
<circle cx="1901.2" cy="1038" r="5" fill="#000"/>
<circle cx="1915.6" cy="1035.2" r="5" fill="#000"/>
<circle cx="1929.5" cy="1028.5" r="5" fill="#000"/>
<circle cx="1943.2" cy="1028.5" r="5" fill="#000"/>
<circle cx="1929.5" cy="1037.3" r="5" fill="#000"/>
<circle cx="1943.2" cy="1036.4" r="5" fill="#000"/>
<circle cx="1956.9" cy="1038" r="5" fill="#000"/>
<path d="M2023.7,860.5 C2024.13,863.12 2025.43,870.67 2026.3,876.2 C2027.17,881.73 2028.45,889.77 2028.9,893.7 C2029.35,897.63 2029.28,896.9 2029,899.8 C2028.72,902.7 2027.8,906.3 2027.2,911.1 C2026.6,915.9 2025.98,923.65 2025.4,928.6 C2024.82,933.55 2023.98,938.77 2023.7,940.8 C2023.42,938.77 2022.58,933.55 2022,928.6 C2021.42,923.65 2020.8,915.9 2020.2,911.1 C2019.6,906.3 2018.68,902.7 2018.4,899.8 C2018.12,896.9 2018.05,897.63 2018.5,893.7 C2018.95,889.77 2020.23,881.73 2021.1,876.2 C2021.97,870.67 2023.27,863.12 2023.7,860.5 Z" fill="#3B70B9"/>
<circle cx="2023.7" cy="899.7" r="5" fill="#000"/>
<path d="M2023.7,954.8 C2023.98,956.25 2024.67,960.6 2025.4,963.5 C2026.13,966.4 2026.93,969.28 2028.1,972.2 C2029.27,975.12 2030.95,978.08 2032.4,981 C2033.85,983.92 2035.33,986.8 2036.8,989.7 C2038.27,992.6 2039.6,995.48 2041.2,998.4 C2042.8,1001.32 2044.8,1004.28 2046.4,1007.2 C2048,1010.12 2049.7,1013 2050.8,1015.9 C2051.9,1018.8 2052.87,1021.68 2053,1024.6 C2053.13,1027.52 2052.4,1030.48 2051.6,1033.4 C2050.8,1036.32 2049.8,1039.2 2048.2,1042.1 C2046.6,1045 2044.05,1047.88 2042,1050.8 C2039.95,1053.72 2037.78,1056.68 2035.9,1059.6 C2034.02,1062.52 2032.15,1065.4 2030.7,1068.3 C2029.25,1071.2 2028.37,1074.23 2027.2,1077 C2026.03,1079.77 2024.28,1083.58 2023.7,1084.9 C2023.12,1083.58 2021.37,1079.77 2020.2,1077 C2019.03,1074.23 2018.15,1071.2 2016.7,1068.3 C2015.25,1065.4 2013.38,1062.52 2011.5,1059.6 C2009.62,1056.68 2007.45,1053.72 2005.4,1050.8 C2003.35,1047.88 2000.8,1045 1999.2,1042.1 C1997.6,1039.2 1996.6,1036.32 1995.8,1033.4 C1995,1030.48 1994.27,1027.52 1994.4,1024.6 C1994.53,1021.68 1995.5,1018.8 1996.6,1015.9 C1997.7,1013 1999.4,1010.12 2001,1007.2 C2002.6,1004.28 2004.6,1001.32 2006.2,998.4 C2007.8,995.48 2009.13,992.6 2010.6,989.7 C2012.07,986.8 2013.55,983.92 2015,981 C2016.45,978.08 2018.13,975.12 2019.3,972.2 C2020.47,969.28 2021.27,966.4 2022,963.5 C2022.73,960.6 2023.42,956.25 2023.7,954.8 Z" fill="#3B70B9"/>
<line x1="1996.7" y1="1033.7" x2="2050.7" y2="1033.7" stroke="#000" stroke-width="2.2" stroke-linecap="butt" stroke-dasharray="2.2,4.4"/>
<line x1="2008.7" y1="996.8" x2="2038.7" y2="996.8" stroke="#000" stroke-width="2.2" stroke-linecap="butt" stroke-dasharray="2.2,4.4"/>
<line x1="1994.7" y1="1020.5" x2="2052.7" y2="1020.5" stroke="#000" stroke-width="3" stroke-linecap="butt"/>
<circle cx="2023.7" cy="996.8" r="5" fill="#000"/>
<circle cx="2016.5" cy="1019.3" r="5" fill="#000"/>
<circle cx="2030.9" cy="1020.5" r="5" fill="#000"/>
<circle cx="2008.8" cy="1035.7" r="5" fill="#000"/>
<circle cx="2023.7" cy="1033.7" r="5" fill="#000"/>
<circle cx="2038.1" cy="1034" r="5" fill="#000"/>
<path d="M2117.8,945.2 C2118.23,946.8 2119.23,950.3 2120.4,954.8 C2121.57,959.3 2123.48,966.38 2124.8,972.2 C2126.12,978.02 2127.13,985.33 2128.3,989.7 C2129.47,994.07 2130.2,995.48 2131.8,998.4 C2133.4,1001.32 2135.87,1004.28 2137.9,1007.2 C2139.93,1010.12 2142.4,1013 2144,1015.9 C2145.6,1018.8 2147.07,1021.68 2147.5,1024.6 C2147.93,1027.52 2147.47,1030.48 2146.6,1033.4 C2145.73,1036.32 2144.05,1039.2 2142.3,1042.1 C2140.55,1045 2138.28,1047.88 2136.1,1050.8 C2133.92,1053.72 2131.38,1056.68 2129.2,1059.6 C2127.02,1062.52 2124.9,1065.1 2123,1068.3 C2121.1,1071.5 2118.67,1077.05 2117.8,1078.8 C2116.93,1077.05 2114.5,1071.5 2112.6,1068.3 C2110.7,1065.1 2108.58,1062.52 2106.4,1059.6 C2104.22,1056.68 2101.68,1053.72 2099.5,1050.8 C2097.32,1047.88 2095.05,1045 2093.3,1042.1 C2091.55,1039.2 2089.87,1036.32 2089,1033.4 C2088.13,1030.48 2087.67,1027.52 2088.1,1024.6 C2088.53,1021.68 2090,1018.8 2091.6,1015.9 C2093.2,1013 2095.67,1010.12 2097.7,1007.2 C2099.73,1004.28 2102.2,1001.32 2103.8,998.4 C2105.4,995.48 2106.13,994.07 2107.3,989.7 C2108.47,985.33 2109.48,978.02 2110.8,972.2 C2112.12,966.38 2114.03,959.3 2115.2,954.8 C2116.37,950.3 2117.37,946.8 2117.8,945.2 Z" fill="#C68CBE"/>
<line x1="2092.8" y1="1040" x2="2142.8" y2="1040" stroke="#000" stroke-width="2.2" stroke-linecap="butt" stroke-dasharray="2.2,4.4"/>
<line x1="2092.8" y1="1003.2" x2="2142.8" y2="1003.2" stroke="#000" stroke-width="2.2" stroke-linecap="butt" stroke-dasharray="2.2,4.4"/>
<line x1="2087.8" y1="1023.6" x2="2147.8" y2="1023.6" stroke="#000" stroke-width="3" stroke-linecap="butt"/>
<circle cx="2117.8" cy="978" r="5" fill="#000"/>
<circle cx="2117.8" cy="1003.2" r="5" fill="#000"/>
<circle cx="2103.4" cy="1023.6" r="5" fill="#000"/>
<circle cx="2117.8" cy="1022.4" r="5" fill="#000"/>
<circle cx="2132.4" cy="1025.3" r="5" fill="#000"/>
<circle cx="2110.8" cy="1042.9" r="5" fill="#000"/>
<circle cx="2125.2" cy="1040.5" r="5" fill="#000"/>
<text x="1941.3" y="1240" font-size="26.4" text-anchor="end" fill="#000" transform="rotate(-45 1941.3 1240)">Chow+Saline</text>
<text x="2031.4" y="1240" font-size="26.4" text-anchor="end" fill="#000" transform="rotate(-45 2031.4 1240)">TPN+Saline</text>
<text x="2124.5" y="1240" font-size="26.4" text-anchor="end" fill="#000" transform="rotate(-45 2124.5 1240)">TPN+Liraglutide</text>
</svg>
</body></html>
